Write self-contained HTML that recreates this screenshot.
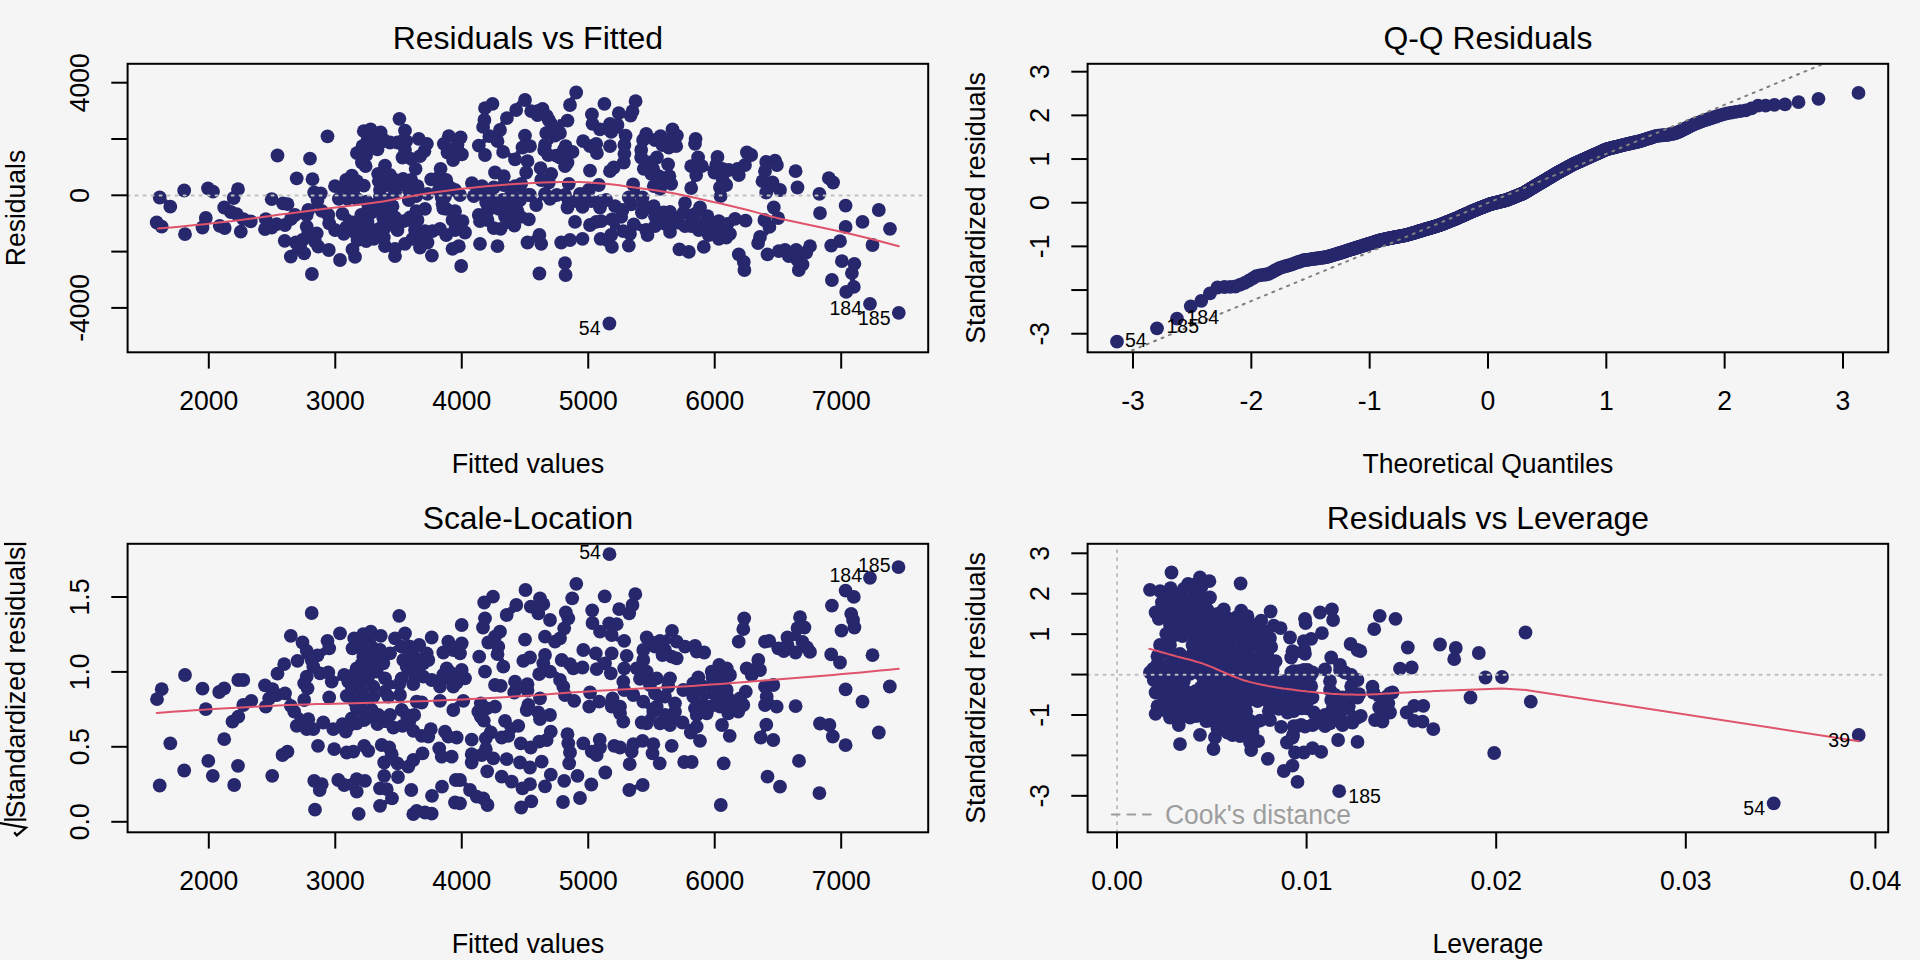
<!DOCTYPE html>
<html><head><meta charset="utf-8"><title>lm diagnostics</title>
<style>html,body{margin:0;padding:0;background:#f5f5f5;}body{width:1920px;height:960px;overflow:hidden;font-family:"Liberation Sans",sans-serif;}svg{display:block}</style>
</head><body>
<svg width="1920" height="960" viewBox="0 0 1920 960" font-family="Liberation Sans, sans-serif">
<rect width="1920" height="960" fill="#f5f5f5"/>
<clipPath id="c1"><rect x="128.6" y="64.8" width="798.6" height="286.5"/></clipPath>
<g clip-path="url(#c1)">
<g fill="#27276d">
<circle cx="159.7" cy="197.5" r="6.9"/>
<circle cx="170.3" cy="206.7" r="6.9"/>
<circle cx="184.2" cy="190.5" r="6.9"/>
<circle cx="156.7" cy="222.5" r="6.9"/>
<circle cx="161.7" cy="226.7" r="6.9"/>
<circle cx="185.0" cy="234.2" r="6.9"/>
<circle cx="208.0" cy="188.3" r="6.9"/>
<circle cx="213.0" cy="191.7" r="6.9"/>
<circle cx="205.8" cy="218.0" r="6.9"/>
<circle cx="202.5" cy="227.5" r="6.9"/>
<circle cx="219.7" cy="225.8" r="6.9"/>
<circle cx="224.7" cy="228.0" r="6.9"/>
<circle cx="224.2" cy="207.5" r="6.9"/>
<circle cx="238.0" cy="189.2" r="6.9"/>
<circle cx="233.7" cy="198.0" r="6.9"/>
<circle cx="230.8" cy="212.0" r="6.9"/>
<circle cx="236.7" cy="214.2" r="6.9"/>
<circle cx="243.3" cy="219.2" r="6.9"/>
<circle cx="250.8" cy="221.3" r="6.9"/>
<circle cx="240.8" cy="231.7" r="6.9"/>
<circle cx="277.5" cy="155.5" r="6.9"/>
<circle cx="296.7" cy="178.3" r="6.9"/>
<circle cx="271.7" cy="199.2" r="6.9"/>
<circle cx="283.0" cy="203.3" r="6.9"/>
<circle cx="287.5" cy="204.2" r="6.9"/>
<circle cx="265.8" cy="219.2" r="6.9"/>
<circle cx="265.0" cy="229.2" r="6.9"/>
<circle cx="271.7" cy="227.5" r="6.9"/>
<circle cx="276.7" cy="224.2" r="6.9"/>
<circle cx="285.0" cy="225.0" r="6.9"/>
<circle cx="290.8" cy="219.2" r="6.9"/>
<circle cx="295.0" cy="215.0" r="6.9"/>
<circle cx="284.7" cy="240.8" r="6.9"/>
<circle cx="290.8" cy="256.7" r="6.9"/>
<circle cx="295.8" cy="242.5" r="6.9"/>
<circle cx="310.0" cy="158.7" r="6.9"/>
<circle cx="327.5" cy="136.3" r="6.9"/>
<circle cx="312.5" cy="179.2" r="6.9"/>
<circle cx="314.2" cy="192.5" r="6.9"/>
<circle cx="320.8" cy="193.3" r="6.9"/>
<circle cx="317.5" cy="200.0" r="6.9"/>
<circle cx="308.3" cy="210.0" r="6.9"/>
<circle cx="306.7" cy="215.0" r="6.9"/>
<circle cx="321.7" cy="210.8" r="6.9"/>
<circle cx="328.3" cy="215.0" r="6.9"/>
<circle cx="306.7" cy="226.7" r="6.9"/>
<circle cx="308.3" cy="233.3" r="6.9"/>
<circle cx="302.5" cy="240.0" r="6.9"/>
<circle cx="300.0" cy="246.7" r="6.9"/>
<circle cx="304.2" cy="253.3" r="6.9"/>
<circle cx="316.7" cy="233.3" r="6.9"/>
<circle cx="315.0" cy="241.7" r="6.9"/>
<circle cx="318.3" cy="246.7" r="6.9"/>
<circle cx="329.2" cy="223.3" r="6.9"/>
<circle cx="311.9" cy="274.0" r="6.9"/>
<circle cx="363.8" cy="131.2" r="6.9"/>
<circle cx="370.6" cy="129.4" r="6.9"/>
<circle cx="380.6" cy="132.5" r="6.9"/>
<circle cx="367.5" cy="140.0" r="6.9"/>
<circle cx="376.2" cy="141.2" r="6.9"/>
<circle cx="362.5" cy="146.2" r="6.9"/>
<circle cx="356.9" cy="153.1" r="6.9"/>
<circle cx="366.2" cy="155.0" r="6.9"/>
<circle cx="377.5" cy="149.4" r="6.9"/>
<circle cx="361.9" cy="162.5" r="6.9"/>
<circle cx="365.6" cy="166.2" r="6.9"/>
<circle cx="399.4" cy="118.8" r="6.9"/>
<circle cx="405.0" cy="130.6" r="6.9"/>
<circle cx="390.0" cy="142.5" r="6.9"/>
<circle cx="397.5" cy="142.5" r="6.9"/>
<circle cx="406.2" cy="141.2" r="6.9"/>
<circle cx="418.8" cy="138.8" r="6.9"/>
<circle cx="426.9" cy="143.8" r="6.9"/>
<circle cx="424.4" cy="151.2" r="6.9"/>
<circle cx="405.0" cy="150.0" r="6.9"/>
<circle cx="402.5" cy="157.5" r="6.9"/>
<circle cx="411.2" cy="158.8" r="6.9"/>
<circle cx="420.0" cy="156.2" r="6.9"/>
<circle cx="448.8" cy="136.2" r="6.9"/>
<circle cx="460.6" cy="137.5" r="6.9"/>
<circle cx="443.8" cy="143.8" r="6.9"/>
<circle cx="457.5" cy="145.0" r="6.9"/>
<circle cx="447.5" cy="152.5" r="6.9"/>
<circle cx="461.9" cy="154.4" r="6.9"/>
<circle cx="453.1" cy="160.0" r="6.9"/>
<circle cx="485.0" cy="108.1" r="6.9"/>
<circle cx="492.5" cy="103.8" r="6.9"/>
<circle cx="484.4" cy="120.0" r="6.9"/>
<circle cx="483.1" cy="126.9" r="6.9"/>
<circle cx="489.4" cy="136.2" r="6.9"/>
<circle cx="497.5" cy="141.2" r="6.9"/>
<circle cx="500.0" cy="130.0" r="6.9"/>
<circle cx="478.8" cy="145.6" r="6.9"/>
<circle cx="485.0" cy="155.0" r="6.9"/>
<circle cx="503.1" cy="151.9" r="6.9"/>
<circle cx="506.9" cy="118.1" r="6.9"/>
<circle cx="516.2" cy="110.0" r="6.9"/>
<circle cx="525.0" cy="100.0" r="6.9"/>
<circle cx="531.2" cy="111.2" r="6.9"/>
<circle cx="542.5" cy="108.8" r="6.9"/>
<circle cx="537.5" cy="115.0" r="6.9"/>
<circle cx="548.8" cy="120.0" r="6.9"/>
<circle cx="551.2" cy="123.8" r="6.9"/>
<circle cx="567.5" cy="120.6" r="6.9"/>
<circle cx="570.0" cy="105.0" r="6.9"/>
<circle cx="525.0" cy="135.6" r="6.9"/>
<circle cx="522.5" cy="147.5" r="6.9"/>
<circle cx="530.0" cy="146.2" r="6.9"/>
<circle cx="515.0" cy="159.4" r="6.9"/>
<circle cx="527.5" cy="161.2" r="6.9"/>
<circle cx="526.2" cy="172.5" r="6.9"/>
<circle cx="545.0" cy="145.0" r="6.9"/>
<circle cx="565.6" cy="146.2" r="6.9"/>
<circle cx="555.0" cy="135.6" r="6.9"/>
<circle cx="556.2" cy="155.6" r="6.9"/>
<circle cx="546.2" cy="133.1" r="6.9"/>
<circle cx="560.0" cy="133.1" r="6.9"/>
<circle cx="540.6" cy="168.1" r="6.9"/>
<circle cx="551.2" cy="173.8" r="6.9"/>
<circle cx="541.2" cy="180.0" r="6.9"/>
<circle cx="548.8" cy="182.5" r="6.9"/>
<circle cx="567.5" cy="162.5" r="6.9"/>
<circle cx="565.0" cy="155.0" r="6.9"/>
<circle cx="335.0" cy="186.2" r="6.9"/>
<circle cx="346.2" cy="180.0" r="6.9"/>
<circle cx="351.9" cy="175.6" r="6.9"/>
<circle cx="356.9" cy="181.2" r="6.9"/>
<circle cx="363.8" cy="185.6" r="6.9"/>
<circle cx="346.2" cy="187.5" r="6.9"/>
<circle cx="385.0" cy="165.6" r="6.9"/>
<circle cx="378.1" cy="173.8" r="6.9"/>
<circle cx="390.0" cy="175.0" r="6.9"/>
<circle cx="378.8" cy="181.2" r="6.9"/>
<circle cx="387.5" cy="185.0" r="6.9"/>
<circle cx="395.0" cy="180.0" r="6.9"/>
<circle cx="403.1" cy="178.8" r="6.9"/>
<circle cx="415.6" cy="168.8" r="6.9"/>
<circle cx="411.2" cy="180.0" r="6.9"/>
<circle cx="417.5" cy="186.2" r="6.9"/>
<circle cx="408.8" cy="190.0" r="6.9"/>
<circle cx="440.6" cy="168.8" r="6.9"/>
<circle cx="431.2" cy="179.4" r="6.9"/>
<circle cx="440.0" cy="181.2" r="6.9"/>
<circle cx="446.2" cy="180.0" r="6.9"/>
<circle cx="450.0" cy="187.5" r="6.9"/>
<circle cx="455.0" cy="190.0" r="6.9"/>
<circle cx="438.8" cy="190.0" r="6.9"/>
<circle cx="495.0" cy="172.5" r="6.9"/>
<circle cx="503.8" cy="176.2" r="6.9"/>
<circle cx="471.9" cy="183.1" r="6.9"/>
<circle cx="481.9" cy="186.2" r="6.9"/>
<circle cx="493.8" cy="187.5" r="6.9"/>
<circle cx="503.8" cy="185.0" r="6.9"/>
<circle cx="515.0" cy="186.2" r="6.9"/>
<circle cx="521.2" cy="183.8" r="6.9"/>
<circle cx="338.8" cy="198.8" r="6.9"/>
<circle cx="356.9" cy="198.8" r="6.9"/>
<circle cx="380.0" cy="190.0" r="6.9"/>
<circle cx="380.0" cy="196.2" r="6.9"/>
<circle cx="395.0" cy="192.5" r="6.9"/>
<circle cx="408.8" cy="200.0" r="6.9"/>
<circle cx="416.2" cy="196.2" r="6.9"/>
<circle cx="427.5" cy="193.8" r="6.9"/>
<circle cx="442.5" cy="192.5" r="6.9"/>
<circle cx="442.5" cy="203.8" r="6.9"/>
<circle cx="460.0" cy="195.0" r="6.9"/>
<circle cx="473.8" cy="196.2" r="6.9"/>
<circle cx="488.8" cy="192.5" r="6.9"/>
<circle cx="486.2" cy="202.5" r="6.9"/>
<circle cx="502.5" cy="200.0" r="6.9"/>
<circle cx="511.2" cy="193.8" r="6.9"/>
<circle cx="520.0" cy="200.0" r="6.9"/>
<circle cx="510.0" cy="207.5" r="6.9"/>
<circle cx="530.0" cy="195.0" r="6.9"/>
<circle cx="536.2" cy="205.0" r="6.9"/>
<circle cx="550.0" cy="198.8" r="6.9"/>
<circle cx="545.0" cy="193.8" r="6.9"/>
<circle cx="565.0" cy="195.0" r="6.9"/>
<circle cx="567.5" cy="207.5" r="6.9"/>
<circle cx="342.5" cy="213.8" r="6.9"/>
<circle cx="361.2" cy="215.0" r="6.9"/>
<circle cx="371.2" cy="212.5" r="6.9"/>
<circle cx="367.5" cy="221.2" r="6.9"/>
<circle cx="352.5" cy="222.5" r="6.9"/>
<circle cx="346.2" cy="227.5" r="6.9"/>
<circle cx="382.5" cy="207.5" r="6.9"/>
<circle cx="392.5" cy="206.2" r="6.9"/>
<circle cx="395.0" cy="217.5" r="6.9"/>
<circle cx="388.8" cy="223.8" r="6.9"/>
<circle cx="410.0" cy="217.5" r="6.9"/>
<circle cx="403.8" cy="221.2" r="6.9"/>
<circle cx="417.5" cy="220.0" r="6.9"/>
<circle cx="425.0" cy="208.8" r="6.9"/>
<circle cx="416.2" cy="211.2" r="6.9"/>
<circle cx="446.2" cy="208.8" r="6.9"/>
<circle cx="455.0" cy="211.2" r="6.9"/>
<circle cx="452.5" cy="220.0" r="6.9"/>
<circle cx="462.5" cy="221.2" r="6.9"/>
<circle cx="478.8" cy="215.0" r="6.9"/>
<circle cx="487.5" cy="211.2" r="6.9"/>
<circle cx="480.0" cy="221.2" r="6.9"/>
<circle cx="487.5" cy="220.0" r="6.9"/>
<circle cx="498.8" cy="208.8" r="6.9"/>
<circle cx="507.5" cy="211.2" r="6.9"/>
<circle cx="517.5" cy="211.2" r="6.9"/>
<circle cx="528.8" cy="219.4" r="6.9"/>
<circle cx="514.4" cy="225.6" r="6.9"/>
<circle cx="493.8" cy="228.1" r="6.9"/>
<circle cx="500.6" cy="228.8" r="6.9"/>
<circle cx="335.0" cy="230.0" r="6.9"/>
<circle cx="343.8" cy="233.8" r="6.9"/>
<circle cx="355.0" cy="232.5" r="6.9"/>
<circle cx="365.0" cy="230.0" r="6.9"/>
<circle cx="376.2" cy="230.0" r="6.9"/>
<circle cx="385.0" cy="227.5" r="6.9"/>
<circle cx="366.2" cy="241.2" r="6.9"/>
<circle cx="357.5" cy="240.0" r="6.9"/>
<circle cx="373.8" cy="238.8" r="6.9"/>
<circle cx="383.8" cy="237.5" r="6.9"/>
<circle cx="385.0" cy="246.2" r="6.9"/>
<circle cx="397.5" cy="230.0" r="6.9"/>
<circle cx="395.0" cy="248.8" r="6.9"/>
<circle cx="405.0" cy="243.8" r="6.9"/>
<circle cx="415.0" cy="230.0" r="6.9"/>
<circle cx="412.5" cy="238.8" r="6.9"/>
<circle cx="425.0" cy="231.2" r="6.9"/>
<circle cx="432.5" cy="231.2" r="6.9"/>
<circle cx="440.0" cy="228.8" r="6.9"/>
<circle cx="427.5" cy="242.5" r="6.9"/>
<circle cx="420.0" cy="247.5" r="6.9"/>
<circle cx="446.2" cy="235.0" r="6.9"/>
<circle cx="455.0" cy="230.0" r="6.9"/>
<circle cx="465.0" cy="232.5" r="6.9"/>
<circle cx="458.8" cy="246.2" r="6.9"/>
<circle cx="452.5" cy="248.8" r="6.9"/>
<circle cx="480.0" cy="243.8" r="6.9"/>
<circle cx="497.5" cy="246.2" r="6.9"/>
<circle cx="527.5" cy="242.5" r="6.9"/>
<circle cx="539.4" cy="235.0" r="6.9"/>
<circle cx="541.2" cy="243.8" r="6.9"/>
<circle cx="561.2" cy="242.5" r="6.9"/>
<circle cx="570.0" cy="240.0" r="6.9"/>
<circle cx="328.8" cy="250.0" r="6.9"/>
<circle cx="352.5" cy="249.4" r="6.9"/>
<circle cx="355.0" cy="256.9" r="6.9"/>
<circle cx="340.0" cy="260.0" r="6.9"/>
<circle cx="395.0" cy="256.2" r="6.9"/>
<circle cx="431.9" cy="255.6" r="6.9"/>
<circle cx="461.2" cy="266.0" r="6.9"/>
<circle cx="539.4" cy="273.5" r="6.9"/>
<circle cx="565.0" cy="263.1" r="6.9"/>
<circle cx="565.6" cy="275.0" r="6.9"/>
<circle cx="576.2" cy="92.5" r="6.9"/>
<circle cx="604.4" cy="103.8" r="6.9"/>
<circle cx="635.6" cy="101.2" r="6.9"/>
<circle cx="591.9" cy="114.4" r="6.9"/>
<circle cx="592.5" cy="123.8" r="6.9"/>
<circle cx="618.8" cy="113.1" r="6.9"/>
<circle cx="630.6" cy="115.6" r="6.9"/>
<circle cx="632.5" cy="111.2" r="6.9"/>
<circle cx="610.0" cy="123.8" r="6.9"/>
<circle cx="600.0" cy="129.4" r="6.9"/>
<circle cx="611.2" cy="131.9" r="6.9"/>
<circle cx="617.5" cy="125.0" r="6.9"/>
<circle cx="625.6" cy="135.6" r="6.9"/>
<circle cx="583.1" cy="141.2" r="6.9"/>
<circle cx="596.2" cy="143.8" r="6.9"/>
<circle cx="590.0" cy="146.2" r="6.9"/>
<circle cx="596.9" cy="153.1" r="6.9"/>
<circle cx="610.0" cy="146.2" r="6.9"/>
<circle cx="624.4" cy="145.0" r="6.9"/>
<circle cx="624.4" cy="153.8" r="6.9"/>
<circle cx="623.8" cy="162.5" r="6.9"/>
<circle cx="613.8" cy="167.5" r="6.9"/>
<circle cx="610.0" cy="171.2" r="6.9"/>
<circle cx="590.0" cy="170.6" r="6.9"/>
<circle cx="563.8" cy="150.0" r="6.9"/>
<circle cx="572.5" cy="151.9" r="6.9"/>
<circle cx="565.0" cy="166.2" r="6.9"/>
<circle cx="560.0" cy="157.5" r="6.9"/>
<circle cx="646.2" cy="133.8" r="6.9"/>
<circle cx="643.1" cy="140.0" r="6.9"/>
<circle cx="641.2" cy="150.0" r="6.9"/>
<circle cx="641.2" cy="157.5" r="6.9"/>
<circle cx="643.8" cy="168.8" r="6.9"/>
<circle cx="656.9" cy="157.5" r="6.9"/>
<circle cx="653.1" cy="168.8" r="6.9"/>
<circle cx="660.6" cy="136.2" r="6.9"/>
<circle cx="655.0" cy="140.0" r="6.9"/>
<circle cx="672.5" cy="129.4" r="6.9"/>
<circle cx="676.9" cy="135.6" r="6.9"/>
<circle cx="667.5" cy="140.0" r="6.9"/>
<circle cx="676.2" cy="146.2" r="6.9"/>
<circle cx="668.8" cy="147.5" r="6.9"/>
<circle cx="662.5" cy="145.0" r="6.9"/>
<circle cx="668.1" cy="164.4" r="6.9"/>
<circle cx="669.4" cy="176.2" r="6.9"/>
<circle cx="658.8" cy="176.2" r="6.9"/>
<circle cx="651.2" cy="173.8" r="6.9"/>
<circle cx="671.2" cy="183.8" r="6.9"/>
<circle cx="653.8" cy="186.2" r="6.9"/>
<circle cx="633.1" cy="184.4" r="6.9"/>
<circle cx="568.8" cy="183.8" r="6.9"/>
<circle cx="598.8" cy="185.0" r="6.9"/>
<circle cx="588.8" cy="190.0" r="6.9"/>
<circle cx="695.6" cy="138.8" r="6.9"/>
<circle cx="695.0" cy="143.8" r="6.9"/>
<circle cx="698.1" cy="157.5" r="6.9"/>
<circle cx="691.2" cy="166.2" r="6.9"/>
<circle cx="701.9" cy="166.2" r="6.9"/>
<circle cx="696.2" cy="175.0" r="6.9"/>
<circle cx="691.2" cy="188.1" r="6.9"/>
<circle cx="717.5" cy="156.9" r="6.9"/>
<circle cx="714.4" cy="172.5" r="6.9"/>
<circle cx="722.5" cy="168.8" r="6.9"/>
<circle cx="728.8" cy="170.0" r="6.9"/>
<circle cx="722.5" cy="178.8" r="6.9"/>
<circle cx="737.5" cy="168.8" r="6.9"/>
<circle cx="745.0" cy="165.0" r="6.9"/>
<circle cx="738.8" cy="175.0" r="6.9"/>
<circle cx="726.2" cy="185.0" r="6.9"/>
<circle cx="720.0" cy="187.5" r="6.9"/>
<circle cx="746.9" cy="152.5" r="6.9"/>
<circle cx="751.2" cy="155.0" r="6.9"/>
<circle cx="766.2" cy="161.9" r="6.9"/>
<circle cx="775.0" cy="160.6" r="6.9"/>
<circle cx="776.9" cy="165.0" r="6.9"/>
<circle cx="765.0" cy="171.2" r="6.9"/>
<circle cx="762.5" cy="181.2" r="6.9"/>
<circle cx="772.5" cy="182.5" r="6.9"/>
<circle cx="795.6" cy="171.2" r="6.9"/>
<circle cx="797.5" cy="187.5" r="6.9"/>
<circle cx="780.0" cy="190.0" r="6.9"/>
<circle cx="580.0" cy="193.8" r="6.9"/>
<circle cx="660.0" cy="188.8" r="6.9"/>
<circle cx="720.6" cy="196.2" r="6.9"/>
<circle cx="766.2" cy="192.5" r="6.9"/>
<circle cx="568.8" cy="202.5" r="6.9"/>
<circle cx="576.2" cy="201.2" r="6.9"/>
<circle cx="582.5" cy="206.9" r="6.9"/>
<circle cx="591.2" cy="201.2" r="6.9"/>
<circle cx="600.0" cy="207.5" r="6.9"/>
<circle cx="606.2" cy="200.0" r="6.9"/>
<circle cx="601.2" cy="201.2" r="6.9"/>
<circle cx="615.0" cy="206.2" r="6.9"/>
<circle cx="622.5" cy="210.0" r="6.9"/>
<circle cx="628.8" cy="197.5" r="6.9"/>
<circle cx="631.2" cy="204.4" r="6.9"/>
<circle cx="642.5" cy="197.5" r="6.9"/>
<circle cx="641.9" cy="212.5" r="6.9"/>
<circle cx="647.5" cy="207.5" r="6.9"/>
<circle cx="653.8" cy="206.2" r="6.9"/>
<circle cx="655.0" cy="216.2" r="6.9"/>
<circle cx="663.8" cy="212.5" r="6.9"/>
<circle cx="670.0" cy="211.9" r="6.9"/>
<circle cx="685.0" cy="203.1" r="6.9"/>
<circle cx="683.8" cy="212.5" r="6.9"/>
<circle cx="700.0" cy="207.5" r="6.9"/>
<circle cx="695.0" cy="213.8" r="6.9"/>
<circle cx="707.5" cy="216.2" r="6.9"/>
<circle cx="773.8" cy="207.5" r="6.9"/>
<circle cx="778.1" cy="218.1" r="6.9"/>
<circle cx="764.4" cy="220.0" r="6.9"/>
<circle cx="769.4" cy="226.9" r="6.9"/>
<circle cx="575.0" cy="221.9" r="6.9"/>
<circle cx="590.0" cy="225.0" r="6.9"/>
<circle cx="596.2" cy="221.9" r="6.9"/>
<circle cx="601.2" cy="221.2" r="6.9"/>
<circle cx="611.9" cy="219.4" r="6.9"/>
<circle cx="621.2" cy="216.9" r="6.9"/>
<circle cx="633.8" cy="224.4" r="6.9"/>
<circle cx="623.1" cy="231.2" r="6.9"/>
<circle cx="630.0" cy="233.8" r="6.9"/>
<circle cx="611.2" cy="235.0" r="6.9"/>
<circle cx="600.6" cy="238.8" r="6.9"/>
<circle cx="582.5" cy="238.8" r="6.9"/>
<circle cx="646.2" cy="230.0" r="6.9"/>
<circle cx="647.5" cy="235.0" r="6.9"/>
<circle cx="655.0" cy="226.2" r="6.9"/>
<circle cx="665.0" cy="223.8" r="6.9"/>
<circle cx="670.0" cy="231.9" r="6.9"/>
<circle cx="677.5" cy="222.5" r="6.9"/>
<circle cx="685.0" cy="226.2" r="6.9"/>
<circle cx="691.2" cy="226.2" r="6.9"/>
<circle cx="698.8" cy="230.0" r="6.9"/>
<circle cx="697.5" cy="223.8" r="6.9"/>
<circle cx="707.5" cy="223.8" r="6.9"/>
<circle cx="718.8" cy="221.2" r="6.9"/>
<circle cx="713.8" cy="230.0" r="6.9"/>
<circle cx="727.5" cy="223.8" r="6.9"/>
<circle cx="735.0" cy="218.8" r="6.9"/>
<circle cx="745.6" cy="220.6" r="6.9"/>
<circle cx="708.8" cy="235.0" r="6.9"/>
<circle cx="718.8" cy="238.8" r="6.9"/>
<circle cx="726.2" cy="237.5" r="6.9"/>
<circle cx="730.0" cy="233.8" r="6.9"/>
<circle cx="760.0" cy="236.9" r="6.9"/>
<circle cx="758.1" cy="243.1" r="6.9"/>
<circle cx="611.9" cy="246.9" r="6.9"/>
<circle cx="628.8" cy="245.6" r="6.9"/>
<circle cx="679.4" cy="249.4" r="6.9"/>
<circle cx="688.8" cy="251.9" r="6.9"/>
<circle cx="703.8" cy="246.9" r="6.9"/>
<circle cx="738.8" cy="254.4" r="6.9"/>
<circle cx="743.8" cy="261.9" r="6.9"/>
<circle cx="744.4" cy="270.0" r="6.9"/>
<circle cx="767.5" cy="254.4" r="6.9"/>
<circle cx="778.8" cy="251.2" r="6.9"/>
<circle cx="785.0" cy="250.0" r="6.9"/>
<circle cx="788.8" cy="256.2" r="6.9"/>
<circle cx="796.2" cy="250.0" r="6.9"/>
<circle cx="797.5" cy="260.0" r="6.9"/>
<circle cx="798.8" cy="270.0" r="6.9"/>
<circle cx="819.4" cy="193.8" r="6.9"/>
<circle cx="828.8" cy="178.1" r="6.9"/>
<circle cx="833.1" cy="182.5" r="6.9"/>
<circle cx="820.0" cy="213.1" r="6.9"/>
<circle cx="845.6" cy="205.6" r="6.9"/>
<circle cx="878.8" cy="210.0" r="6.9"/>
<circle cx="862.5" cy="221.9" r="6.9"/>
<circle cx="845.6" cy="226.9" r="6.9"/>
<circle cx="890.0" cy="228.8" r="6.9"/>
<circle cx="840.0" cy="241.2" r="6.9"/>
<circle cx="831.2" cy="245.6" r="6.9"/>
<circle cx="872.5" cy="245.0" r="6.9"/>
<circle cx="810.0" cy="246.2" r="6.9"/>
<circle cx="806.2" cy="252.5" r="6.9"/>
<circle cx="802.5" cy="264.4" r="6.9"/>
<circle cx="841.9" cy="261.2" r="6.9"/>
<circle cx="854.4" cy="263.8" r="6.9"/>
<circle cx="851.9" cy="273.1" r="6.9"/>
<circle cx="831.9" cy="280.0" r="6.9"/>
<circle cx="853.8" cy="286.9" r="6.9"/>
<circle cx="846.2" cy="291.9" r="6.9"/>
<circle cx="870.0" cy="303.8" r="6.9"/>
<circle cx="898.8" cy="312.8" r="6.9"/>
<circle cx="609.4" cy="323.5" r="6.9"/>
<circle cx="505.0" cy="216.5" r="6.9"/>
<circle cx="511.2" cy="217.5" r="6.9"/>
<circle cx="383.1" cy="217.5" r="6.9"/>
<circle cx="347.5" cy="198.8" r="6.9"/>
<circle cx="353.3" cy="190.8" r="6.9"/>
<circle cx="366.7" cy="201.7" r="6.9"/>
<circle cx="441.7" cy="197.5" r="6.9"/>
<circle cx="716.2" cy="165.0" r="6.9"/>
<circle cx="538.3" cy="110.8" r="6.9"/>
<circle cx="546.7" cy="115.8" r="6.9"/>
<circle cx="544.2" cy="150.0" r="6.9"/>
<circle cx="548.3" cy="155.0" r="6.9"/>
<circle cx="445.0" cy="196.7" r="6.9"/>
<circle cx="528.3" cy="195.0" r="6.9"/>
<circle cx="556.7" cy="195.0" r="6.9"/>
<circle cx="443.3" cy="208.3" r="6.9"/>
<circle cx="388.5" cy="198.5" r="2.6"/>
<circle cx="649.0" cy="161.0" r="2.6"/>
<circle cx="375.0" cy="203.5" r="2.6"/>
<circle cx="520.0" cy="219.5" r="2.6"/>
<circle cx="615.5" cy="227.5" r="2.6"/>
<circle cx="560.0" cy="124.5" r="2.6"/>
<circle cx="635.5" cy="192.5" r="2.6"/>
<circle cx="494.0" cy="199.0" r="2.6"/>
<circle cx="722.0" cy="230.0" r="2.6"/>
<circle cx="400.5" cy="186.5" r="2.6"/>
<circle cx="420.5" cy="238.0" r="2.6"/>
<circle cx="520.5" cy="192.0" r="2.6"/>
<circle cx="639.5" cy="205.0" r="2.6"/>
<circle cx="688.0" cy="219.0" r="2.6"/>
<circle cx="370.0" cy="147.5" r="2.6"/>
<circle cx="649.0" cy="158.0" r="2.6"/>
<circle cx="481.0" cy="194.0" r="2.6"/>
<circle cx="388.0" cy="195.5" r="2.6"/>
<circle cx="386.5" cy="201.0" r="2.6"/>
<circle cx="494.0" cy="202.0" r="2.6"/>
<circle cx="360.0" cy="222.5" r="2.6"/>
<circle cx="507.0" cy="224.0" r="2.6"/>
<circle cx="617.5" cy="225.0" r="2.6"/>
<circle cx="612.5" cy="227.0" r="2.6"/>
<circle cx="560.0" cy="121.5" r="2.6"/>
<circle cx="664.0" cy="181.5" r="2.6"/>
<circle cx="637.5" cy="190.5" r="2.6"/>
<circle cx="374.0" cy="200.5" r="2.6"/>
<circle cx="388.5" cy="212.5" r="2.6"/>
<circle cx="572.5" cy="98.5" r="2.6"/>
<circle cx="519.0" cy="103.5" r="2.6"/>
<circle cx="502.5" cy="123.5" r="2.6"/>
<circle cx="562.5" cy="125.5" r="2.6"/>
<circle cx="558.0" cy="126.0" r="2.6"/>
<circle cx="620.0" cy="131.5" r="2.6"/>
<circle cx="386.5" cy="136.5" r="2.6"/>
<circle cx="401.0" cy="136.5" r="2.6"/>
<circle cx="383.0" cy="139.0" r="2.6"/>
<circle cx="484.0" cy="141.0" r="2.6"/>
<circle cx="551.0" cy="141.5" r="2.6"/>
<circle cx="383.0" cy="143.0" r="2.6"/>
<circle cx="383.5" cy="145.5" r="2.6"/>
<circle cx="450.5" cy="145.5" r="2.6"/>
<circle cx="454.5" cy="151.5" r="2.6"/>
<circle cx="518.0" cy="153.0" r="2.6"/>
<circle cx="509.5" cy="155.0" r="2.6"/>
<circle cx="646.5" cy="162.0" r="2.6"/>
<circle cx="651.5" cy="162.0" r="2.6"/>
<circle cx="648.5" cy="163.5" r="2.6"/>
<circle cx="708.5" cy="168.5" r="2.6"/>
<circle cx="436.0" cy="174.0" r="2.6"/>
<circle cx="693.5" cy="181.5" r="2.6"/>
<circle cx="403.0" cy="186.0" r="2.6"/>
<circle cx="402.0" cy="188.5" r="2.6"/>
<circle cx="475.5" cy="189.0" r="2.6"/>
<circle cx="772.5" cy="189.5" r="2.6"/>
<circle cx="523.0" cy="190.5" r="2.6"/>
<circle cx="339.5" cy="191.5" r="2.6"/>
<circle cx="632.5" cy="191.5" r="2.6"/>
<circle cx="635.5" cy="195.0" r="2.6"/>
<circle cx="482.5" cy="196.0" r="2.6"/>
<circle cx="495.0" cy="196.0" r="2.6"/>
<circle cx="480.5" cy="198.0" r="2.6"/>
<circle cx="391.0" cy="198.5" r="2.6"/>
<circle cx="540.0" cy="199.0" r="2.6"/>
<circle cx="584.5" cy="199.0" r="2.6"/>
<circle cx="509.5" cy="200.5" r="2.6"/>
<circle cx="513.0" cy="200.5" r="2.6"/>
<circle cx="165.5" cy="201.5" r="2.6"/>
<circle cx="373.0" cy="205.0" r="2.6"/>
<circle cx="492.5" cy="205.5" r="2.6"/>
<circle cx="314.0" cy="206.0" r="2.6"/>
<circle cx="375.5" cy="206.0" r="2.6"/>
<circle cx="364.0" cy="208.5" r="2.6"/>
<circle cx="524.0" cy="214.0" r="2.6"/>
<circle cx="677.0" cy="214.0" r="2.6"/>
<circle cx="349.0" cy="216.5" r="2.6"/>
<circle cx="521.5" cy="217.0" r="2.6"/>
<circle cx="670.5" cy="219.0" r="2.6"/>
<circle cx="690.5" cy="219.0" r="2.6"/>
<circle cx="345.5" cy="220.0" r="2.6"/>
<circle cx="522.0" cy="221.0" r="2.6"/>
<circle cx="379.0" cy="223.5" r="2.6"/>
<circle cx="410.0" cy="224.5" r="2.6"/>
<circle cx="359.0" cy="225.0" r="2.6"/>
<circle cx="640.5" cy="226.0" r="2.6"/>
<circle cx="507.5" cy="226.5" r="2.6"/>
<circle cx="720.5" cy="228.0" r="2.6"/>
<circle cx="639.5" cy="228.5" r="2.6"/>
<circle cx="720.5" cy="232.0" r="2.6"/>
<circle cx="766.0" cy="233.0" r="2.6"/>
<circle cx="419.5" cy="235.5" r="2.6"/>
<circle cx="533.0" cy="238.0" r="2.6"/>
<circle cx="534.5" cy="240.0" r="2.6"/>
<circle cx="419.5" cy="240.5" r="2.6"/>
<circle cx="607.5" cy="241.0" r="2.6"/>
<circle cx="605.5" cy="244.0" r="2.6"/>
<circle cx="294.0" cy="250.5" r="2.6"/>
<circle cx="297.0" cy="253.0" r="2.6"/>
<circle cx="852.5" cy="280.0" r="2.6"/>
</g>
<line x1="127.60" y1="195.50" x2="928.20" y2="195.50" stroke="#bebebe" stroke-width="2.0" stroke-linecap="round" stroke-dasharray="2 6"/>
<path d="M158.0,228.6 L167.4,227.8 L176.8,227.0 L186.1,226.1 L195.5,225.1 L204.9,224.2 L214.3,223.1 L223.6,222.1 L233.0,221.0 L242.4,219.8 L251.8,218.5 L261.1,217.2 L270.5,215.9 L279.9,214.6 L289.3,213.4 L298.6,212.2 L308.0,210.9 L317.4,209.7 L326.8,208.5 L336.2,207.4 L345.5,206.3 L354.9,205.2 L364.3,204.0 L373.7,202.8 L383.0,201.4 L392.4,199.8 L401.8,198.1 L411.2,196.3 L420.5,194.6 L429.9,193.1 L439.3,191.8 L448.7,190.5 L458.1,189.3 L467.4,188.2 L476.8,187.2 L486.2,186.3 L495.6,185.5 L504.9,184.7 L514.3,184.0 L523.7,183.4 L533.1,183.0 L542.4,182.6 L551.8,182.2 L561.2,182.0 L570.6,181.9 L579.9,182.1 L589.3,182.6 L598.7,183.2 L608.1,184.0 L617.5,185.1 L626.8,186.4 L636.2,187.7 L645.6,188.9 L655.0,190.3 L664.3,191.7 L673.7,193.3 L683.1,195.2 L692.5,197.2 L701.8,199.4 L711.2,201.5 L720.6,203.6 L730.0,205.8 L739.3,208.0 L748.7,210.3 L758.1,212.9 L767.5,215.5 L776.9,217.9 L786.2,220.0 L795.6,222.0 L805.0,224.0 L814.4,226.0 L823.7,227.9 L833.1,229.9 L842.5,232.0 L851.9,234.2 L861.2,236.5 L870.6,238.8 L880.0,241.2 L889.4,243.7 L898.8,246.2" fill="none" stroke="#df536b" stroke-width="2.0" stroke-linejoin="round" stroke-linecap="round"/>
</g>
<rect x="127.60" y="63.80" width="800.60" height="288.50" fill="none" stroke="#000" stroke-width="2.0"/>
<line x1="208.80" y1="352.30" x2="208.80" y2="368.60" stroke="#000" stroke-width="2.0" stroke-linecap="butt"/>
<text transform="translate(208.80 409.50) scale(1 1.04)" font-size="26.56" text-anchor="middle" fill="#000">2000</text>
<line x1="335.28" y1="352.30" x2="335.28" y2="368.60" stroke="#000" stroke-width="2.0" stroke-linecap="butt"/>
<text transform="translate(335.28 409.50) scale(1 1.04)" font-size="26.56" text-anchor="middle" fill="#000">3000</text>
<line x1="461.76" y1="352.30" x2="461.76" y2="368.60" stroke="#000" stroke-width="2.0" stroke-linecap="butt"/>
<text transform="translate(461.76 409.50) scale(1 1.04)" font-size="26.56" text-anchor="middle" fill="#000">4000</text>
<line x1="588.24" y1="352.30" x2="588.24" y2="368.60" stroke="#000" stroke-width="2.0" stroke-linecap="butt"/>
<text transform="translate(588.24 409.50) scale(1 1.04)" font-size="26.56" text-anchor="middle" fill="#000">5000</text>
<line x1="714.72" y1="352.30" x2="714.72" y2="368.60" stroke="#000" stroke-width="2.0" stroke-linecap="butt"/>
<text transform="translate(714.72 409.50) scale(1 1.04)" font-size="26.56" text-anchor="middle" fill="#000">6000</text>
<line x1="841.20" y1="352.30" x2="841.20" y2="368.60" stroke="#000" stroke-width="2.0" stroke-linecap="butt"/>
<text transform="translate(841.20 409.50) scale(1 1.04)" font-size="26.56" text-anchor="middle" fill="#000">7000</text>
<line x1="111.30" y1="82.70" x2="127.60" y2="82.70" stroke="#000" stroke-width="2.0" stroke-linecap="butt"/>
<text transform="translate(89.00 82.70) rotate(-90) scale(1 1.04)" font-size="26.56" text-anchor="middle" fill="#000">4000</text>
<line x1="111.30" y1="139.00" x2="127.60" y2="139.00" stroke="#000" stroke-width="2.0" stroke-linecap="butt"/>
<line x1="111.30" y1="195.30" x2="127.60" y2="195.30" stroke="#000" stroke-width="2.0" stroke-linecap="butt"/>
<text transform="translate(89.00 195.30) rotate(-90) scale(1 1.04)" font-size="26.56" text-anchor="middle" fill="#000">0</text>
<line x1="111.30" y1="251.60" x2="127.60" y2="251.60" stroke="#000" stroke-width="2.0" stroke-linecap="butt"/>
<line x1="111.30" y1="307.90" x2="127.60" y2="307.90" stroke="#000" stroke-width="2.0" stroke-linecap="butt"/>
<text transform="translate(89.00 307.90) rotate(-90) scale(1 1.04)" font-size="26.56" text-anchor="middle" fill="#000">-4000</text>
<text transform="translate(527.90 48.90) scale(1 1.01)" font-size="31.87" text-anchor="middle" fill="#000" textLength="270.5" lengthAdjust="spacingAndGlyphs">Residuals vs Fitted</text>
<text transform="translate(527.90 472.80) scale(1 1.04)" font-size="26.56" text-anchor="middle" fill="#000" textLength="152.5" lengthAdjust="spacingAndGlyphs">Fitted values</text>
<text transform="translate(25.30 208.00) rotate(-90) scale(1 1.04)" font-size="26.56" text-anchor="middle" fill="#000">Residuals</text>
<text transform="translate(600.50 335.00) scale(1 1.04)" font-size="19.5" text-anchor="end" fill="#000">54</text>
<text transform="translate(862.00 315.40) scale(1 1.04)" font-size="19.5" text-anchor="end" fill="#000">184</text>
<text transform="translate(890.50 324.60) scale(1 1.04)" font-size="19.5" text-anchor="end" fill="#000">185</text>
<clipPath id="c2"><rect x="1088.6" y="64.8" width="798.6" height="286.5"/></clipPath>
<g clip-path="url(#c2)">
<g fill="#27276d">
<circle cx="1224.5" cy="287.0" r="6.9"/>
<circle cx="1230.3" cy="286.8" r="6.9"/>
<circle cx="1235.5" cy="286.5" r="6.9"/>
<circle cx="1240.3" cy="284.6" r="6.9"/>
<circle cx="1244.7" cy="282.8" r="6.9"/>
<circle cx="1248.8" cy="280.7" r="6.9"/>
<circle cx="1252.7" cy="278.3" r="6.9"/>
<circle cx="1256.3" cy="276.1" r="6.9"/>
<circle cx="1259.6" cy="275.4" r="6.9"/>
<circle cx="1262.9" cy="274.9" r="6.9"/>
<circle cx="1265.9" cy="274.5" r="6.9"/>
<circle cx="1268.8" cy="273.9" r="6.9"/>
<circle cx="1271.6" cy="272.4" r="6.9"/>
<circle cx="1274.3" cy="270.9" r="6.9"/>
<circle cx="1276.9" cy="269.5" r="6.9"/>
<circle cx="1279.4" cy="268.2" r="6.9"/>
<circle cx="1281.7" cy="267.3" r="6.9"/>
<circle cx="1284.0" cy="266.7" r="6.9"/>
<circle cx="1286.3" cy="266.0" r="6.9"/>
<circle cx="1288.4" cy="265.4" r="6.9"/>
<circle cx="1290.5" cy="264.8" r="6.9"/>
<circle cx="1292.6" cy="264.1" r="6.9"/>
<circle cx="1294.5" cy="263.4" r="6.9"/>
<circle cx="1296.5" cy="262.7" r="6.9"/>
<circle cx="1298.4" cy="262.0" r="6.9"/>
<circle cx="1300.2" cy="261.4" r="6.9"/>
<circle cx="1302.0" cy="260.8" r="6.9"/>
<circle cx="1303.7" cy="260.2" r="6.9"/>
<circle cx="1305.4" cy="260.0" r="6.9"/>
<circle cx="1307.1" cy="259.8" r="6.9"/>
<circle cx="1308.7" cy="259.6" r="6.9"/>
<circle cx="1310.3" cy="259.3" r="6.9"/>
<circle cx="1311.9" cy="259.1" r="6.9"/>
<circle cx="1313.4" cy="258.9" r="6.9"/>
<circle cx="1314.9" cy="258.7" r="6.9"/>
<circle cx="1316.4" cy="258.5" r="6.9"/>
<circle cx="1317.9" cy="258.3" r="6.9"/>
<circle cx="1319.3" cy="258.1" r="6.9"/>
<circle cx="1320.7" cy="257.9" r="6.9"/>
<circle cx="1322.1" cy="257.7" r="6.9"/>
<circle cx="1323.5" cy="257.5" r="6.9"/>
<circle cx="1324.8" cy="257.3" r="6.9"/>
<circle cx="1326.1" cy="257.1" r="6.9"/>
<circle cx="1327.4" cy="256.8" r="6.9"/>
<circle cx="1328.7" cy="256.4" r="6.9"/>
<circle cx="1330.0" cy="256.0" r="6.9"/>
<circle cx="1331.2" cy="255.6" r="6.9"/>
<circle cx="1332.4" cy="255.3" r="6.9"/>
<circle cx="1333.6" cy="254.9" r="6.9"/>
<circle cx="1334.8" cy="254.6" r="6.9"/>
<circle cx="1336.0" cy="254.2" r="6.9"/>
<circle cx="1337.2" cy="253.9" r="6.9"/>
<circle cx="1338.3" cy="253.5" r="6.9"/>
<circle cx="1339.5" cy="253.2" r="6.9"/>
<circle cx="1340.6" cy="252.8" r="6.9"/>
<circle cx="1341.7" cy="252.5" r="6.9"/>
<circle cx="1342.8" cy="252.1" r="6.9"/>
<circle cx="1343.9" cy="251.8" r="6.9"/>
<circle cx="1344.9" cy="251.4" r="6.9"/>
<circle cx="1346.0" cy="251.1" r="6.9"/>
<circle cx="1347.0" cy="250.7" r="6.9"/>
<circle cx="1348.1" cy="250.4" r="6.9"/>
<circle cx="1349.1" cy="250.1" r="6.9"/>
<circle cx="1350.1" cy="249.7" r="6.9"/>
<circle cx="1351.1" cy="249.4" r="6.9"/>
<circle cx="1352.1" cy="249.1" r="6.9"/>
<circle cx="1353.1" cy="248.8" r="6.9"/>
<circle cx="1354.1" cy="248.5" r="6.9"/>
<circle cx="1355.1" cy="248.1" r="6.9"/>
<circle cx="1356.0" cy="247.8" r="6.9"/>
<circle cx="1357.0" cy="247.5" r="6.9"/>
<circle cx="1357.9" cy="247.3" r="6.9"/>
<circle cx="1358.9" cy="247.0" r="6.9"/>
<circle cx="1359.8" cy="246.7" r="6.9"/>
<circle cx="1360.7" cy="246.4" r="6.9"/>
<circle cx="1361.6" cy="246.1" r="6.9"/>
<circle cx="1362.5" cy="245.8" r="6.9"/>
<circle cx="1363.4" cy="245.5" r="6.9"/>
<circle cx="1364.3" cy="245.3" r="6.9"/>
<circle cx="1365.2" cy="245.0" r="6.9"/>
<circle cx="1366.1" cy="244.7" r="6.9"/>
<circle cx="1366.9" cy="244.4" r="6.9"/>
<circle cx="1367.8" cy="244.2" r="6.9"/>
<circle cx="1368.6" cy="243.9" r="6.9"/>
<circle cx="1369.5" cy="243.6" r="6.9"/>
<circle cx="1370.3" cy="243.3" r="6.9"/>
<circle cx="1371.2" cy="243.1" r="6.9"/>
<circle cx="1372.0" cy="242.8" r="6.9"/>
<circle cx="1372.8" cy="242.6" r="6.9"/>
<circle cx="1373.7" cy="242.3" r="6.9"/>
<circle cx="1374.5" cy="242.0" r="6.9"/>
<circle cx="1375.3" cy="241.8" r="6.9"/>
<circle cx="1376.1" cy="241.5" r="6.9"/>
<circle cx="1376.9" cy="241.3" r="6.9"/>
<circle cx="1377.7" cy="241.0" r="6.9"/>
<circle cx="1378.5" cy="240.8" r="6.9"/>
<circle cx="1379.3" cy="240.5" r="6.9"/>
<circle cx="1380.0" cy="240.3" r="6.9"/>
<circle cx="1380.8" cy="240.1" r="6.9"/>
<circle cx="1381.6" cy="240.0" r="6.9"/>
<circle cx="1382.4" cy="239.8" r="6.9"/>
<circle cx="1383.1" cy="239.6" r="6.9"/>
<circle cx="1383.9" cy="239.5" r="6.9"/>
<circle cx="1384.6" cy="239.3" r="6.9"/>
<circle cx="1385.4" cy="239.2" r="6.9"/>
<circle cx="1386.1" cy="239.0" r="6.9"/>
<circle cx="1386.9" cy="238.9" r="6.9"/>
<circle cx="1387.6" cy="238.7" r="6.9"/>
<circle cx="1388.3" cy="238.5" r="6.9"/>
<circle cx="1389.1" cy="238.4" r="6.9"/>
<circle cx="1389.8" cy="238.2" r="6.9"/>
<circle cx="1390.5" cy="238.1" r="6.9"/>
<circle cx="1391.2" cy="237.9" r="6.9"/>
<circle cx="1391.9" cy="237.8" r="6.9"/>
<circle cx="1392.7" cy="237.6" r="6.9"/>
<circle cx="1393.4" cy="237.5" r="6.9"/>
<circle cx="1394.1" cy="237.4" r="6.9"/>
<circle cx="1394.8" cy="237.2" r="6.9"/>
<circle cx="1395.5" cy="237.1" r="6.9"/>
<circle cx="1396.2" cy="237.0" r="6.9"/>
<circle cx="1396.9" cy="236.8" r="6.9"/>
<circle cx="1397.6" cy="236.7" r="6.9"/>
<circle cx="1398.2" cy="236.6" r="6.9"/>
<circle cx="1398.9" cy="236.5" r="6.9"/>
<circle cx="1399.6" cy="236.3" r="6.9"/>
<circle cx="1400.3" cy="236.2" r="6.9"/>
<circle cx="1400.9" cy="236.1" r="6.9"/>
<circle cx="1401.6" cy="235.9" r="6.9"/>
<circle cx="1402.3" cy="235.8" r="6.9"/>
<circle cx="1403.0" cy="235.7" r="6.9"/>
<circle cx="1403.6" cy="235.6" r="6.9"/>
<circle cx="1404.3" cy="235.5" r="6.9"/>
<circle cx="1404.9" cy="235.3" r="6.9"/>
<circle cx="1405.6" cy="235.2" r="6.9"/>
<circle cx="1406.2" cy="235.1" r="6.9"/>
<circle cx="1406.9" cy="234.9" r="6.9"/>
<circle cx="1407.5" cy="234.7" r="6.9"/>
<circle cx="1408.2" cy="234.6" r="6.9"/>
<circle cx="1408.8" cy="234.4" r="6.9"/>
<circle cx="1409.5" cy="234.2" r="6.9"/>
<circle cx="1410.1" cy="234.0" r="6.9"/>
<circle cx="1410.7" cy="233.8" r="6.9"/>
<circle cx="1411.4" cy="233.6" r="6.9"/>
<circle cx="1412.0" cy="233.4" r="6.9"/>
<circle cx="1412.6" cy="233.2" r="6.9"/>
<circle cx="1413.3" cy="233.0" r="6.9"/>
<circle cx="1413.9" cy="232.8" r="6.9"/>
<circle cx="1414.5" cy="232.6" r="6.9"/>
<circle cx="1415.1" cy="232.5" r="6.9"/>
<circle cx="1415.8" cy="232.3" r="6.9"/>
<circle cx="1416.4" cy="232.1" r="6.9"/>
<circle cx="1417.0" cy="231.9" r="6.9"/>
<circle cx="1417.6" cy="231.7" r="6.9"/>
<circle cx="1418.2" cy="231.5" r="6.9"/>
<circle cx="1418.8" cy="231.3" r="6.9"/>
<circle cx="1419.4" cy="231.2" r="6.9"/>
<circle cx="1420.0" cy="231.0" r="6.9"/>
<circle cx="1420.6" cy="230.8" r="6.9"/>
<circle cx="1421.2" cy="230.6" r="6.9"/>
<circle cx="1421.8" cy="230.4" r="6.9"/>
<circle cx="1422.4" cy="230.3" r="6.9"/>
<circle cx="1423.0" cy="230.1" r="6.9"/>
<circle cx="1423.6" cy="229.9" r="6.9"/>
<circle cx="1424.2" cy="229.7" r="6.9"/>
<circle cx="1424.8" cy="229.5" r="6.9"/>
<circle cx="1425.4" cy="229.4" r="6.9"/>
<circle cx="1426.0" cy="229.2" r="6.9"/>
<circle cx="1426.6" cy="229.0" r="6.9"/>
<circle cx="1427.2" cy="228.8" r="6.9"/>
<circle cx="1427.8" cy="228.7" r="6.9"/>
<circle cx="1428.3" cy="228.5" r="6.9"/>
<circle cx="1428.9" cy="228.3" r="6.9"/>
<circle cx="1429.5" cy="228.1" r="6.9"/>
<circle cx="1430.1" cy="228.0" r="6.9"/>
<circle cx="1430.7" cy="227.8" r="6.9"/>
<circle cx="1431.2" cy="227.6" r="6.9"/>
<circle cx="1431.8" cy="227.4" r="6.9"/>
<circle cx="1432.4" cy="227.3" r="6.9"/>
<circle cx="1433.0" cy="227.1" r="6.9"/>
<circle cx="1433.5" cy="226.9" r="6.9"/>
<circle cx="1434.1" cy="226.8" r="6.9"/>
<circle cx="1434.7" cy="226.6" r="6.9"/>
<circle cx="1435.2" cy="226.4" r="6.9"/>
<circle cx="1435.8" cy="226.3" r="6.9"/>
<circle cx="1436.4" cy="226.1" r="6.9"/>
<circle cx="1436.9" cy="225.9" r="6.9"/>
<circle cx="1437.5" cy="225.7" r="6.9"/>
<circle cx="1438.1" cy="225.6" r="6.9"/>
<circle cx="1438.6" cy="225.4" r="6.9"/>
<circle cx="1439.2" cy="225.2" r="6.9"/>
<circle cx="1439.7" cy="225.1" r="6.9"/>
<circle cx="1440.3" cy="224.9" r="6.9"/>
<circle cx="1440.9" cy="224.7" r="6.9"/>
<circle cx="1441.4" cy="224.4" r="6.9"/>
<circle cx="1442.0" cy="224.2" r="6.9"/>
<circle cx="1442.5" cy="224.0" r="6.9"/>
<circle cx="1443.1" cy="223.8" r="6.9"/>
<circle cx="1443.6" cy="223.5" r="6.9"/>
<circle cx="1444.2" cy="223.3" r="6.9"/>
<circle cx="1444.7" cy="223.1" r="6.9"/>
<circle cx="1445.3" cy="222.9" r="6.9"/>
<circle cx="1445.8" cy="222.7" r="6.9"/>
<circle cx="1446.4" cy="222.4" r="6.9"/>
<circle cx="1446.9" cy="222.2" r="6.9"/>
<circle cx="1447.4" cy="222.0" r="6.9"/>
<circle cx="1448.0" cy="221.8" r="6.9"/>
<circle cx="1448.5" cy="221.6" r="6.9"/>
<circle cx="1449.1" cy="221.4" r="6.9"/>
<circle cx="1449.6" cy="221.1" r="6.9"/>
<circle cx="1450.2" cy="220.9" r="6.9"/>
<circle cx="1450.7" cy="220.7" r="6.9"/>
<circle cx="1451.2" cy="220.5" r="6.9"/>
<circle cx="1451.8" cy="220.3" r="6.9"/>
<circle cx="1452.3" cy="220.1" r="6.9"/>
<circle cx="1452.9" cy="219.8" r="6.9"/>
<circle cx="1453.4" cy="219.6" r="6.9"/>
<circle cx="1453.9" cy="219.4" r="6.9"/>
<circle cx="1454.5" cy="219.2" r="6.9"/>
<circle cx="1455.0" cy="219.0" r="6.9"/>
<circle cx="1455.5" cy="218.8" r="6.9"/>
<circle cx="1456.1" cy="218.6" r="6.9"/>
<circle cx="1456.6" cy="218.3" r="6.9"/>
<circle cx="1457.1" cy="218.1" r="6.9"/>
<circle cx="1457.7" cy="217.9" r="6.9"/>
<circle cx="1458.2" cy="217.6" r="6.9"/>
<circle cx="1458.7" cy="217.4" r="6.9"/>
<circle cx="1459.2" cy="217.2" r="6.9"/>
<circle cx="1459.8" cy="216.9" r="6.9"/>
<circle cx="1460.3" cy="216.7" r="6.9"/>
<circle cx="1460.8" cy="216.4" r="6.9"/>
<circle cx="1461.3" cy="216.2" r="6.9"/>
<circle cx="1461.9" cy="216.0" r="6.9"/>
<circle cx="1462.4" cy="215.7" r="6.9"/>
<circle cx="1462.9" cy="215.5" r="6.9"/>
<circle cx="1463.4" cy="215.3" r="6.9"/>
<circle cx="1464.0" cy="215.0" r="6.9"/>
<circle cx="1464.5" cy="214.8" r="6.9"/>
<circle cx="1465.0" cy="214.5" r="6.9"/>
<circle cx="1465.5" cy="214.3" r="6.9"/>
<circle cx="1466.1" cy="214.1" r="6.9"/>
<circle cx="1466.6" cy="213.8" r="6.9"/>
<circle cx="1467.1" cy="213.6" r="6.9"/>
<circle cx="1467.6" cy="213.4" r="6.9"/>
<circle cx="1468.2" cy="213.1" r="6.9"/>
<circle cx="1468.7" cy="212.9" r="6.9"/>
<circle cx="1469.2" cy="212.7" r="6.9"/>
<circle cx="1469.7" cy="212.4" r="6.9"/>
<circle cx="1470.2" cy="212.2" r="6.9"/>
<circle cx="1470.7" cy="212.0" r="6.9"/>
<circle cx="1471.3" cy="211.7" r="6.9"/>
<circle cx="1471.8" cy="211.5" r="6.9"/>
<circle cx="1472.3" cy="211.3" r="6.9"/>
<circle cx="1472.8" cy="211.0" r="6.9"/>
<circle cx="1473.3" cy="210.8" r="6.9"/>
<circle cx="1473.9" cy="210.6" r="6.9"/>
<circle cx="1474.4" cy="210.4" r="6.9"/>
<circle cx="1474.9" cy="210.2" r="6.9"/>
<circle cx="1475.4" cy="210.0" r="6.9"/>
<circle cx="1475.9" cy="209.8" r="6.9"/>
<circle cx="1476.4" cy="209.6" r="6.9"/>
<circle cx="1477.0" cy="209.4" r="6.9"/>
<circle cx="1477.5" cy="209.2" r="6.9"/>
<circle cx="1478.0" cy="208.9" r="6.9"/>
<circle cx="1478.5" cy="208.7" r="6.9"/>
<circle cx="1479.0" cy="208.5" r="6.9"/>
<circle cx="1479.5" cy="208.3" r="6.9"/>
<circle cx="1480.0" cy="208.1" r="6.9"/>
<circle cx="1480.6" cy="207.9" r="6.9"/>
<circle cx="1481.1" cy="207.7" r="6.9"/>
<circle cx="1481.6" cy="207.5" r="6.9"/>
<circle cx="1482.1" cy="207.3" r="6.9"/>
<circle cx="1482.6" cy="207.1" r="6.9"/>
<circle cx="1483.1" cy="206.9" r="6.9"/>
<circle cx="1483.6" cy="206.7" r="6.9"/>
<circle cx="1484.2" cy="206.5" r="6.9"/>
<circle cx="1484.7" cy="206.3" r="6.9"/>
<circle cx="1485.2" cy="206.1" r="6.9"/>
<circle cx="1485.7" cy="205.9" r="6.9"/>
<circle cx="1486.2" cy="205.7" r="6.9"/>
<circle cx="1486.7" cy="205.5" r="6.9"/>
<circle cx="1487.2" cy="205.3" r="6.9"/>
<circle cx="1487.7" cy="205.1" r="6.9"/>
<circle cx="1488.3" cy="204.9" r="6.9"/>
<circle cx="1488.8" cy="204.7" r="6.9"/>
<circle cx="1489.3" cy="204.5" r="6.9"/>
<circle cx="1489.8" cy="204.3" r="6.9"/>
<circle cx="1490.3" cy="204.1" r="6.9"/>
<circle cx="1490.8" cy="204.0" r="6.9"/>
<circle cx="1491.3" cy="203.9" r="6.9"/>
<circle cx="1491.8" cy="203.7" r="6.9"/>
<circle cx="1492.4" cy="203.6" r="6.9"/>
<circle cx="1492.9" cy="203.5" r="6.9"/>
<circle cx="1493.4" cy="203.3" r="6.9"/>
<circle cx="1493.9" cy="203.2" r="6.9"/>
<circle cx="1494.4" cy="203.1" r="6.9"/>
<circle cx="1494.9" cy="203.0" r="6.9"/>
<circle cx="1495.4" cy="202.8" r="6.9"/>
<circle cx="1496.0" cy="202.7" r="6.9"/>
<circle cx="1496.5" cy="202.6" r="6.9"/>
<circle cx="1497.0" cy="202.4" r="6.9"/>
<circle cx="1497.5" cy="202.3" r="6.9"/>
<circle cx="1498.0" cy="202.2" r="6.9"/>
<circle cx="1498.5" cy="202.1" r="6.9"/>
<circle cx="1499.0" cy="201.9" r="6.9"/>
<circle cx="1499.6" cy="201.8" r="6.9"/>
<circle cx="1500.1" cy="201.7" r="6.9"/>
<circle cx="1500.6" cy="201.5" r="6.9"/>
<circle cx="1501.1" cy="201.4" r="6.9"/>
<circle cx="1501.6" cy="201.3" r="6.9"/>
<circle cx="1502.1" cy="201.1" r="6.9"/>
<circle cx="1502.7" cy="201.0" r="6.9"/>
<circle cx="1503.2" cy="200.9" r="6.9"/>
<circle cx="1503.7" cy="200.8" r="6.9"/>
<circle cx="1504.2" cy="200.6" r="6.9"/>
<circle cx="1504.7" cy="200.5" r="6.9"/>
<circle cx="1505.3" cy="200.4" r="6.9"/>
<circle cx="1505.8" cy="200.2" r="6.9"/>
<circle cx="1506.3" cy="200.1" r="6.9"/>
<circle cx="1506.8" cy="200.0" r="6.9"/>
<circle cx="1507.3" cy="199.7" r="6.9"/>
<circle cx="1507.8" cy="199.5" r="6.9"/>
<circle cx="1508.4" cy="199.3" r="6.9"/>
<circle cx="1508.9" cy="199.1" r="6.9"/>
<circle cx="1509.4" cy="198.9" r="6.9"/>
<circle cx="1509.9" cy="198.7" r="6.9"/>
<circle cx="1510.5" cy="198.5" r="6.9"/>
<circle cx="1511.0" cy="198.3" r="6.9"/>
<circle cx="1511.5" cy="198.1" r="6.9"/>
<circle cx="1512.0" cy="197.9" r="6.9"/>
<circle cx="1512.6" cy="197.6" r="6.9"/>
<circle cx="1513.1" cy="197.4" r="6.9"/>
<circle cx="1513.6" cy="197.2" r="6.9"/>
<circle cx="1514.1" cy="197.0" r="6.9"/>
<circle cx="1514.7" cy="196.8" r="6.9"/>
<circle cx="1515.2" cy="196.6" r="6.9"/>
<circle cx="1515.7" cy="196.4" r="6.9"/>
<circle cx="1516.2" cy="196.2" r="6.9"/>
<circle cx="1516.8" cy="195.9" r="6.9"/>
<circle cx="1517.3" cy="195.7" r="6.9"/>
<circle cx="1517.8" cy="195.5" r="6.9"/>
<circle cx="1518.3" cy="195.3" r="6.9"/>
<circle cx="1518.9" cy="195.1" r="6.9"/>
<circle cx="1519.4" cy="194.9" r="6.9"/>
<circle cx="1519.9" cy="194.7" r="6.9"/>
<circle cx="1520.5" cy="194.4" r="6.9"/>
<circle cx="1521.0" cy="194.2" r="6.9"/>
<circle cx="1521.5" cy="194.0" r="6.9"/>
<circle cx="1522.1" cy="193.8" r="6.9"/>
<circle cx="1522.6" cy="193.6" r="6.9"/>
<circle cx="1523.1" cy="193.4" r="6.9"/>
<circle cx="1523.7" cy="193.1" r="6.9"/>
<circle cx="1524.2" cy="192.7" r="6.9"/>
<circle cx="1524.8" cy="192.4" r="6.9"/>
<circle cx="1525.3" cy="192.1" r="6.9"/>
<circle cx="1525.8" cy="191.8" r="6.9"/>
<circle cx="1526.4" cy="191.5" r="6.9"/>
<circle cx="1526.9" cy="191.1" r="6.9"/>
<circle cx="1527.5" cy="190.8" r="6.9"/>
<circle cx="1528.0" cy="190.5" r="6.9"/>
<circle cx="1528.6" cy="190.2" r="6.9"/>
<circle cx="1529.1" cy="189.8" r="6.9"/>
<circle cx="1529.6" cy="189.5" r="6.9"/>
<circle cx="1530.2" cy="189.2" r="6.9"/>
<circle cx="1530.7" cy="188.8" r="6.9"/>
<circle cx="1531.3" cy="188.5" r="6.9"/>
<circle cx="1531.8" cy="188.2" r="6.9"/>
<circle cx="1532.4" cy="187.9" r="6.9"/>
<circle cx="1532.9" cy="187.5" r="6.9"/>
<circle cx="1533.5" cy="187.2" r="6.9"/>
<circle cx="1534.0" cy="186.9" r="6.9"/>
<circle cx="1534.6" cy="186.5" r="6.9"/>
<circle cx="1535.1" cy="186.2" r="6.9"/>
<circle cx="1535.7" cy="185.9" r="6.9"/>
<circle cx="1536.3" cy="185.5" r="6.9"/>
<circle cx="1536.8" cy="185.2" r="6.9"/>
<circle cx="1537.4" cy="184.9" r="6.9"/>
<circle cx="1537.9" cy="184.5" r="6.9"/>
<circle cx="1538.5" cy="184.2" r="6.9"/>
<circle cx="1539.1" cy="183.9" r="6.9"/>
<circle cx="1539.6" cy="183.5" r="6.9"/>
<circle cx="1540.2" cy="183.2" r="6.9"/>
<circle cx="1540.8" cy="182.8" r="6.9"/>
<circle cx="1541.3" cy="182.5" r="6.9"/>
<circle cx="1541.9" cy="182.2" r="6.9"/>
<circle cx="1542.5" cy="181.8" r="6.9"/>
<circle cx="1543.0" cy="181.5" r="6.9"/>
<circle cx="1543.6" cy="181.1" r="6.9"/>
<circle cx="1544.2" cy="180.8" r="6.9"/>
<circle cx="1544.8" cy="180.5" r="6.9"/>
<circle cx="1545.3" cy="180.1" r="6.9"/>
<circle cx="1545.9" cy="179.8" r="6.9"/>
<circle cx="1546.5" cy="179.4" r="6.9"/>
<circle cx="1547.1" cy="179.1" r="6.9"/>
<circle cx="1547.7" cy="178.7" r="6.9"/>
<circle cx="1548.2" cy="178.4" r="6.9"/>
<circle cx="1548.8" cy="178.0" r="6.9"/>
<circle cx="1549.4" cy="177.7" r="6.9"/>
<circle cx="1550.0" cy="177.3" r="6.9"/>
<circle cx="1550.6" cy="177.0" r="6.9"/>
<circle cx="1551.2" cy="176.6" r="6.9"/>
<circle cx="1551.8" cy="176.3" r="6.9"/>
<circle cx="1552.4" cy="175.9" r="6.9"/>
<circle cx="1553.0" cy="175.5" r="6.9"/>
<circle cx="1553.6" cy="175.2" r="6.9"/>
<circle cx="1554.2" cy="174.8" r="6.9"/>
<circle cx="1554.8" cy="174.5" r="6.9"/>
<circle cx="1555.4" cy="174.1" r="6.9"/>
<circle cx="1556.0" cy="173.7" r="6.9"/>
<circle cx="1556.6" cy="173.4" r="6.9"/>
<circle cx="1557.2" cy="173.0" r="6.9"/>
<circle cx="1557.8" cy="172.7" r="6.9"/>
<circle cx="1558.4" cy="172.4" r="6.9"/>
<circle cx="1559.0" cy="172.0" r="6.9"/>
<circle cx="1559.6" cy="171.7" r="6.9"/>
<circle cx="1560.2" cy="171.4" r="6.9"/>
<circle cx="1560.9" cy="171.0" r="6.9"/>
<circle cx="1561.5" cy="170.7" r="6.9"/>
<circle cx="1562.1" cy="170.3" r="6.9"/>
<circle cx="1562.7" cy="170.0" r="6.9"/>
<circle cx="1563.4" cy="169.6" r="6.9"/>
<circle cx="1564.0" cy="169.3" r="6.9"/>
<circle cx="1564.6" cy="169.0" r="6.9"/>
<circle cx="1565.3" cy="168.6" r="6.9"/>
<circle cx="1565.9" cy="168.3" r="6.9"/>
<circle cx="1566.5" cy="167.9" r="6.9"/>
<circle cx="1567.2" cy="167.6" r="6.9"/>
<circle cx="1567.8" cy="167.2" r="6.9"/>
<circle cx="1568.5" cy="166.9" r="6.9"/>
<circle cx="1569.1" cy="166.5" r="6.9"/>
<circle cx="1569.8" cy="166.1" r="6.9"/>
<circle cx="1570.4" cy="165.8" r="6.9"/>
<circle cx="1571.1" cy="165.4" r="6.9"/>
<circle cx="1571.7" cy="165.1" r="6.9"/>
<circle cx="1572.4" cy="164.7" r="6.9"/>
<circle cx="1573.0" cy="164.3" r="6.9"/>
<circle cx="1573.7" cy="164.0" r="6.9"/>
<circle cx="1574.4" cy="163.7" r="6.9"/>
<circle cx="1575.1" cy="163.4" r="6.9"/>
<circle cx="1575.7" cy="163.1" r="6.9"/>
<circle cx="1576.4" cy="162.8" r="6.9"/>
<circle cx="1577.1" cy="162.5" r="6.9"/>
<circle cx="1577.8" cy="162.2" r="6.9"/>
<circle cx="1578.4" cy="161.9" r="6.9"/>
<circle cx="1579.1" cy="161.6" r="6.9"/>
<circle cx="1579.8" cy="161.3" r="6.9"/>
<circle cx="1580.5" cy="161.0" r="6.9"/>
<circle cx="1581.2" cy="160.6" r="6.9"/>
<circle cx="1581.9" cy="160.3" r="6.9"/>
<circle cx="1582.6" cy="160.0" r="6.9"/>
<circle cx="1583.3" cy="159.7" r="6.9"/>
<circle cx="1584.1" cy="159.4" r="6.9"/>
<circle cx="1584.8" cy="159.1" r="6.9"/>
<circle cx="1585.5" cy="158.7" r="6.9"/>
<circle cx="1586.2" cy="158.4" r="6.9"/>
<circle cx="1586.9" cy="158.1" r="6.9"/>
<circle cx="1587.7" cy="157.7" r="6.9"/>
<circle cx="1588.4" cy="157.4" r="6.9"/>
<circle cx="1589.1" cy="157.1" r="6.9"/>
<circle cx="1589.9" cy="156.8" r="6.9"/>
<circle cx="1590.6" cy="156.4" r="6.9"/>
<circle cx="1591.4" cy="156.1" r="6.9"/>
<circle cx="1592.1" cy="155.7" r="6.9"/>
<circle cx="1592.9" cy="155.4" r="6.9"/>
<circle cx="1593.6" cy="155.1" r="6.9"/>
<circle cx="1594.4" cy="154.7" r="6.9"/>
<circle cx="1595.2" cy="154.4" r="6.9"/>
<circle cx="1596.0" cy="154.0" r="6.9"/>
<circle cx="1596.7" cy="153.7" r="6.9"/>
<circle cx="1597.5" cy="153.3" r="6.9"/>
<circle cx="1598.3" cy="153.0" r="6.9"/>
<circle cx="1599.1" cy="152.6" r="6.9"/>
<circle cx="1599.9" cy="152.3" r="6.9"/>
<circle cx="1600.7" cy="151.9" r="6.9"/>
<circle cx="1601.5" cy="151.5" r="6.9"/>
<circle cx="1602.3" cy="151.2" r="6.9"/>
<circle cx="1603.2" cy="150.8" r="6.9"/>
<circle cx="1604.0" cy="150.4" r="6.9"/>
<circle cx="1604.8" cy="150.0" r="6.9"/>
<circle cx="1605.7" cy="149.7" r="6.9"/>
<circle cx="1606.5" cy="149.3" r="6.9"/>
<circle cx="1607.4" cy="149.0" r="6.9"/>
<circle cx="1608.2" cy="148.8" r="6.9"/>
<circle cx="1609.1" cy="148.6" r="6.9"/>
<circle cx="1609.9" cy="148.4" r="6.9"/>
<circle cx="1610.8" cy="148.2" r="6.9"/>
<circle cx="1611.7" cy="147.9" r="6.9"/>
<circle cx="1612.6" cy="147.7" r="6.9"/>
<circle cx="1613.5" cy="147.5" r="6.9"/>
<circle cx="1614.4" cy="147.3" r="6.9"/>
<circle cx="1615.3" cy="147.0" r="6.9"/>
<circle cx="1616.2" cy="146.8" r="6.9"/>
<circle cx="1617.1" cy="146.6" r="6.9"/>
<circle cx="1618.1" cy="146.3" r="6.9"/>
<circle cx="1619.0" cy="146.1" r="6.9"/>
<circle cx="1620.0" cy="145.8" r="6.9"/>
<circle cx="1620.9" cy="145.6" r="6.9"/>
<circle cx="1621.9" cy="145.4" r="6.9"/>
<circle cx="1622.9" cy="145.1" r="6.9"/>
<circle cx="1623.9" cy="144.9" r="6.9"/>
<circle cx="1624.9" cy="144.6" r="6.9"/>
<circle cx="1625.9" cy="144.4" r="6.9"/>
<circle cx="1626.9" cy="144.2" r="6.9"/>
<circle cx="1627.9" cy="143.9" r="6.9"/>
<circle cx="1629.0" cy="143.7" r="6.9"/>
<circle cx="1630.0" cy="143.5" r="6.9"/>
<circle cx="1631.1" cy="143.2" r="6.9"/>
<circle cx="1632.1" cy="143.0" r="6.9"/>
<circle cx="1633.2" cy="142.7" r="6.9"/>
<circle cx="1634.3" cy="142.5" r="6.9"/>
<circle cx="1635.4" cy="142.2" r="6.9"/>
<circle cx="1636.5" cy="142.0" r="6.9"/>
<circle cx="1637.7" cy="141.7" r="6.9"/>
<circle cx="1638.8" cy="141.5" r="6.9"/>
<circle cx="1640.0" cy="141.2" r="6.9"/>
<circle cx="1641.2" cy="140.8" r="6.9"/>
<circle cx="1642.4" cy="140.4" r="6.9"/>
<circle cx="1643.6" cy="140.0" r="6.9"/>
<circle cx="1644.8" cy="139.6" r="6.9"/>
<circle cx="1646.0" cy="139.2" r="6.9"/>
<circle cx="1647.3" cy="138.8" r="6.9"/>
<circle cx="1648.6" cy="138.4" r="6.9"/>
<circle cx="1649.9" cy="138.0" r="6.9"/>
<circle cx="1651.2" cy="137.6" r="6.9"/>
<circle cx="1652.5" cy="137.1" r="6.9"/>
<circle cx="1653.9" cy="136.7" r="6.9"/>
<circle cx="1655.3" cy="136.3" r="6.9"/>
<circle cx="1656.7" cy="135.8" r="6.9"/>
<circle cx="1658.1" cy="135.7" r="6.9"/>
<circle cx="1659.6" cy="135.6" r="6.9"/>
<circle cx="1661.1" cy="135.4" r="6.9"/>
<circle cx="1662.6" cy="135.3" r="6.9"/>
<circle cx="1664.1" cy="135.2" r="6.9"/>
<circle cx="1665.7" cy="135.0" r="6.9"/>
<circle cx="1667.3" cy="134.8" r="6.9"/>
<circle cx="1668.9" cy="134.5" r="6.9"/>
<circle cx="1670.6" cy="134.2" r="6.9"/>
<circle cx="1672.3" cy="133.9" r="6.9"/>
<circle cx="1674.0" cy="133.5" r="6.9"/>
<circle cx="1675.8" cy="133.2" r="6.9"/>
<circle cx="1677.6" cy="132.4" r="6.9"/>
<circle cx="1679.5" cy="131.5" r="6.9"/>
<circle cx="1681.5" cy="130.5" r="6.9"/>
<circle cx="1683.4" cy="129.5" r="6.9"/>
<circle cx="1685.5" cy="128.5" r="6.9"/>
<circle cx="1687.6" cy="127.5" r="6.9"/>
<circle cx="1689.7" cy="126.4" r="6.9"/>
<circle cx="1692.0" cy="125.3" r="6.9"/>
<circle cx="1694.3" cy="124.2" r="6.9"/>
<circle cx="1696.6" cy="123.3" r="6.9"/>
<circle cx="1699.1" cy="122.4" r="6.9"/>
<circle cx="1701.7" cy="121.4" r="6.9"/>
<circle cx="1704.4" cy="120.4" r="6.9"/>
<circle cx="1707.2" cy="119.5" r="6.9"/>
<circle cx="1710.1" cy="118.5" r="6.9"/>
<circle cx="1713.1" cy="117.5" r="6.9"/>
<circle cx="1716.4" cy="116.5" r="6.9"/>
<circle cx="1719.7" cy="115.4" r="6.9"/>
<circle cx="1723.3" cy="114.3" r="6.9"/>
<circle cx="1727.2" cy="113.3" r="6.9"/>
<circle cx="1731.3" cy="112.6" r="6.9"/>
<circle cx="1735.7" cy="111.8" r="6.9"/>
<circle cx="1740.5" cy="111.1" r="6.9"/>
<circle cx="1745.7" cy="110.3" r="6.9"/>
<circle cx="1751.5" cy="108.3" r="6.9"/>
<circle cx="1117.0" cy="341.7" r="6.9"/>
<circle cx="1157.0" cy="328.3" r="6.9"/>
<circle cx="1177.0" cy="318.7" r="6.9"/>
<circle cx="1190.8" cy="306.3" r="6.9"/>
<circle cx="1201.3" cy="300.8" r="6.9"/>
<circle cx="1210.0" cy="293.3" r="6.9"/>
<circle cx="1217.5" cy="287.5" r="6.9"/>
<circle cx="1758.1" cy="105.6" r="6.9"/>
<circle cx="1765.6" cy="105.6" r="6.9"/>
<circle cx="1774.4" cy="104.8" r="6.9"/>
<circle cx="1785.0" cy="104.4" r="6.9"/>
<circle cx="1798.5" cy="102.2" r="6.9"/>
<circle cx="1818.5" cy="98.8" r="6.9"/>
<circle cx="1858.5" cy="92.9" r="6.9"/>
</g>
<line x1="1117.20" y1="356.60" x2="1837.50" y2="58.00" stroke="#7f7f7f" stroke-width="2.0" stroke-linecap="round" stroke-dasharray="2 6"/>
</g>
<rect x="1087.60" y="63.80" width="800.60" height="288.50" fill="none" stroke="#000" stroke-width="2.0"/>
<line x1="1133.00" y1="352.30" x2="1133.00" y2="368.60" stroke="#000" stroke-width="2.0" stroke-linecap="butt"/>
<text transform="translate(1133.00 409.50) scale(1 1.04)" font-size="26.56" text-anchor="middle" fill="#000">-3</text>
<line x1="1251.33" y1="352.30" x2="1251.33" y2="368.60" stroke="#000" stroke-width="2.0" stroke-linecap="butt"/>
<text transform="translate(1251.33 409.50) scale(1 1.04)" font-size="26.56" text-anchor="middle" fill="#000">-2</text>
<line x1="1369.66" y1="352.30" x2="1369.66" y2="368.60" stroke="#000" stroke-width="2.0" stroke-linecap="butt"/>
<text transform="translate(1369.66 409.50) scale(1 1.04)" font-size="26.56" text-anchor="middle" fill="#000">-1</text>
<line x1="1487.99" y1="352.30" x2="1487.99" y2="368.60" stroke="#000" stroke-width="2.0" stroke-linecap="butt"/>
<text transform="translate(1487.99 409.50) scale(1 1.04)" font-size="26.56" text-anchor="middle" fill="#000">0</text>
<line x1="1606.32" y1="352.30" x2="1606.32" y2="368.60" stroke="#000" stroke-width="2.0" stroke-linecap="butt"/>
<text transform="translate(1606.32 409.50) scale(1 1.04)" font-size="26.56" text-anchor="middle" fill="#000">1</text>
<line x1="1724.65" y1="352.30" x2="1724.65" y2="368.60" stroke="#000" stroke-width="2.0" stroke-linecap="butt"/>
<text transform="translate(1724.65 409.50) scale(1 1.04)" font-size="26.56" text-anchor="middle" fill="#000">2</text>
<line x1="1842.98" y1="352.30" x2="1842.98" y2="368.60" stroke="#000" stroke-width="2.0" stroke-linecap="butt"/>
<text transform="translate(1842.98 409.50) scale(1 1.04)" font-size="26.56" text-anchor="middle" fill="#000">3</text>
<line x1="1071.30" y1="71.70" x2="1087.60" y2="71.70" stroke="#000" stroke-width="2.0" stroke-linecap="butt"/>
<text transform="translate(1049.00 71.70) rotate(-90) scale(1 1.04)" font-size="26.56" text-anchor="middle" fill="#000">3</text>
<line x1="1071.30" y1="115.37" x2="1087.60" y2="115.37" stroke="#000" stroke-width="2.0" stroke-linecap="butt"/>
<text transform="translate(1049.00 115.37) rotate(-90) scale(1 1.04)" font-size="26.56" text-anchor="middle" fill="#000">2</text>
<line x1="1071.30" y1="159.04" x2="1087.60" y2="159.04" stroke="#000" stroke-width="2.0" stroke-linecap="butt"/>
<text transform="translate(1049.00 159.04) rotate(-90) scale(1 1.04)" font-size="26.56" text-anchor="middle" fill="#000">1</text>
<line x1="1071.30" y1="202.71" x2="1087.60" y2="202.71" stroke="#000" stroke-width="2.0" stroke-linecap="butt"/>
<text transform="translate(1049.00 202.71) rotate(-90) scale(1 1.04)" font-size="26.56" text-anchor="middle" fill="#000">0</text>
<line x1="1071.30" y1="246.38" x2="1087.60" y2="246.38" stroke="#000" stroke-width="2.0" stroke-linecap="butt"/>
<text transform="translate(1049.00 246.38) rotate(-90) scale(1 1.04)" font-size="26.56" text-anchor="middle" fill="#000">-1</text>
<line x1="1071.30" y1="290.05" x2="1087.60" y2="290.05" stroke="#000" stroke-width="2.0" stroke-linecap="butt"/>
<line x1="1071.30" y1="333.72" x2="1087.60" y2="333.72" stroke="#000" stroke-width="2.0" stroke-linecap="butt"/>
<text transform="translate(1049.00 333.72) rotate(-90) scale(1 1.04)" font-size="26.56" text-anchor="middle" fill="#000">-3</text>
<text transform="translate(1487.90 48.90) scale(1 1.01)" font-size="31.87" text-anchor="middle" fill="#000">Q-Q Residuals</text>
<text transform="translate(1487.90 472.80) scale(1 1.04)" font-size="26.56" text-anchor="middle" fill="#000">Theoretical Quantiles</text>
<text transform="translate(985.30 208.00) rotate(-90) scale(1 1.04)" font-size="26.56" text-anchor="middle" fill="#000" textLength="271.5" lengthAdjust="spacingAndGlyphs">Standardized residuals</text>
<text transform="translate(1125.00 346.60) scale(1 1.04)" font-size="19.5" text-anchor="start" fill="#000">54</text>
<text transform="translate(1166.50 333.40) scale(1 1.04)" font-size="19.5" text-anchor="start" fill="#000">185</text>
<text transform="translate(1186.50 323.70) scale(1 1.04)" font-size="19.5" text-anchor="start" fill="#000">184</text>
<clipPath id="c3"><rect x="128.6" y="544.8" width="798.6" height="286.5"/></clipPath>
<g clip-path="url(#c3)">
<g fill="#27276d">
<circle cx="161.7" cy="689.2" r="6.9"/>
<circle cx="157.0" cy="699.2" r="6.9"/>
<circle cx="185.0" cy="675.0" r="6.9"/>
<circle cx="202.5" cy="688.7" r="6.9"/>
<circle cx="224.2" cy="688.3" r="6.9"/>
<circle cx="219.2" cy="692.0" r="6.9"/>
<circle cx="238.3" cy="680.0" r="6.9"/>
<circle cx="243.3" cy="680.0" r="6.9"/>
<circle cx="311.7" cy="613.0" r="6.9"/>
<circle cx="290.8" cy="635.8" r="6.9"/>
<circle cx="302.5" cy="642.5" r="6.9"/>
<circle cx="306.7" cy="650.8" r="6.9"/>
<circle cx="317.5" cy="655.3" r="6.9"/>
<circle cx="311.7" cy="660.0" r="6.9"/>
<circle cx="297.5" cy="660.8" r="6.9"/>
<circle cx="284.2" cy="664.2" r="6.9"/>
<circle cx="277.5" cy="673.7" r="6.9"/>
<circle cx="327.5" cy="640.8" r="6.9"/>
<circle cx="329.2" cy="648.3" r="6.9"/>
<circle cx="340.0" cy="633.3" r="6.9"/>
<circle cx="265.0" cy="685.3" r="6.9"/>
<circle cx="272.5" cy="689.2" r="6.9"/>
<circle cx="276.7" cy="695.0" r="6.9"/>
<circle cx="285.0" cy="693.3" r="6.9"/>
<circle cx="269.2" cy="698.3" r="6.9"/>
<circle cx="306.7" cy="676.7" r="6.9"/>
<circle cx="304.2" cy="683.3" r="6.9"/>
<circle cx="307.5" cy="688.3" r="6.9"/>
<circle cx="304.2" cy="700.0" r="6.9"/>
<circle cx="313.3" cy="666.7" r="6.9"/>
<circle cx="320.0" cy="673.3" r="6.9"/>
<circle cx="328.3" cy="672.5" r="6.9"/>
<circle cx="331.7" cy="681.7" r="6.9"/>
<circle cx="329.2" cy="697.5" r="6.9"/>
<circle cx="399.2" cy="615.8" r="6.9"/>
<circle cx="354.2" cy="638.3" r="6.9"/>
<circle cx="352.5" cy="648.3" r="6.9"/>
<circle cx="363.3" cy="634.2" r="6.9"/>
<circle cx="370.8" cy="631.7" r="6.9"/>
<circle cx="380.8" cy="635.8" r="6.9"/>
<circle cx="369.2" cy="641.7" r="6.9"/>
<circle cx="365.8" cy="648.3" r="6.9"/>
<circle cx="363.3" cy="656.7" r="6.9"/>
<circle cx="373.3" cy="653.3" r="6.9"/>
<circle cx="380.0" cy="650.0" r="6.9"/>
<circle cx="390.0" cy="653.3" r="6.9"/>
<circle cx="395.0" cy="638.3" r="6.9"/>
<circle cx="405.0" cy="633.3" r="6.9"/>
<circle cx="401.7" cy="646.7" r="6.9"/>
<circle cx="410.0" cy="646.7" r="6.9"/>
<circle cx="419.2" cy="645.0" r="6.9"/>
<circle cx="426.7" cy="653.3" r="6.9"/>
<circle cx="413.3" cy="655.0" r="6.9"/>
<circle cx="403.3" cy="660.0" r="6.9"/>
<circle cx="406.7" cy="666.7" r="6.9"/>
<circle cx="415.0" cy="666.7" r="6.9"/>
<circle cx="423.3" cy="663.3" r="6.9"/>
<circle cx="428.3" cy="660.0" r="6.9"/>
<circle cx="431.7" cy="637.5" r="6.9"/>
<circle cx="448.3" cy="641.7" r="6.9"/>
<circle cx="443.3" cy="652.5" r="6.9"/>
<circle cx="453.3" cy="650.0" r="6.9"/>
<circle cx="356.7" cy="668.3" r="6.9"/>
<circle cx="365.0" cy="666.7" r="6.9"/>
<circle cx="373.3" cy="663.3" r="6.9"/>
<circle cx="383.3" cy="663.3" r="6.9"/>
<circle cx="376.7" cy="671.7" r="6.9"/>
<circle cx="344.2" cy="675.0" r="6.9"/>
<circle cx="348.3" cy="681.7" r="6.9"/>
<circle cx="355.0" cy="678.3" r="6.9"/>
<circle cx="368.3" cy="676.7" r="6.9"/>
<circle cx="385.0" cy="678.3" r="6.9"/>
<circle cx="346.7" cy="695.8" r="6.9"/>
<circle cx="351.7" cy="686.7" r="6.9"/>
<circle cx="361.7" cy="691.7" r="6.9"/>
<circle cx="365.0" cy="698.3" r="6.9"/>
<circle cx="373.3" cy="686.7" r="6.9"/>
<circle cx="385.0" cy="691.7" r="6.9"/>
<circle cx="388.3" cy="696.7" r="6.9"/>
<circle cx="399.2" cy="684.2" r="6.9"/>
<circle cx="401.7" cy="678.3" r="6.9"/>
<circle cx="400.0" cy="695.0" r="6.9"/>
<circle cx="415.0" cy="676.7" r="6.9"/>
<circle cx="413.3" cy="684.2" r="6.9"/>
<circle cx="423.3" cy="676.7" r="6.9"/>
<circle cx="431.7" cy="680.0" r="6.9"/>
<circle cx="440.0" cy="686.7" r="6.9"/>
<circle cx="446.7" cy="668.3" r="6.9"/>
<circle cx="453.3" cy="686.7" r="6.9"/>
<circle cx="205.8" cy="709.2" r="6.9"/>
<circle cx="243.3" cy="705.0" r="6.9"/>
<circle cx="251.3" cy="700.8" r="6.9"/>
<circle cx="238.3" cy="716.7" r="6.9"/>
<circle cx="232.5" cy="721.7" r="6.9"/>
<circle cx="265.8" cy="706.7" r="6.9"/>
<circle cx="290.8" cy="705.8" r="6.9"/>
<circle cx="294.2" cy="711.7" r="6.9"/>
<circle cx="308.3" cy="719.2" r="6.9"/>
<circle cx="296.7" cy="725.8" r="6.9"/>
<circle cx="306.7" cy="729.2" r="6.9"/>
<circle cx="313.3" cy="729.2" r="6.9"/>
<circle cx="323.3" cy="722.5" r="6.9"/>
<circle cx="333.3" cy="729.2" r="6.9"/>
<circle cx="345.8" cy="731.7" r="6.9"/>
<circle cx="342.5" cy="724.2" r="6.9"/>
<circle cx="351.7" cy="718.3" r="6.9"/>
<circle cx="356.7" cy="723.3" r="6.9"/>
<circle cx="364.2" cy="720.0" r="6.9"/>
<circle cx="361.7" cy="710.0" r="6.9"/>
<circle cx="371.7" cy="710.0" r="6.9"/>
<circle cx="378.3" cy="715.0" r="6.9"/>
<circle cx="377.5" cy="724.2" r="6.9"/>
<circle cx="390.0" cy="715.0" r="6.9"/>
<circle cx="401.7" cy="710.0" r="6.9"/>
<circle cx="414.2" cy="715.0" r="6.9"/>
<circle cx="416.7" cy="701.7" r="6.9"/>
<circle cx="421.7" cy="702.5" r="6.9"/>
<circle cx="440.0" cy="700.8" r="6.9"/>
<circle cx="453.3" cy="710.0" r="6.9"/>
<circle cx="355.0" cy="702.5" r="6.9"/>
<circle cx="393.3" cy="727.5" r="6.9"/>
<circle cx="402.5" cy="725.8" r="6.9"/>
<circle cx="413.3" cy="730.8" r="6.9"/>
<circle cx="421.7" cy="735.8" r="6.9"/>
<circle cx="430.8" cy="729.2" r="6.9"/>
<circle cx="428.3" cy="736.7" r="6.9"/>
<circle cx="445.0" cy="731.7" r="6.9"/>
<circle cx="448.3" cy="736.7" r="6.9"/>
<circle cx="456.7" cy="737.5" r="6.9"/>
<circle cx="170.3" cy="743.3" r="6.9"/>
<circle cx="224.2" cy="739.2" r="6.9"/>
<circle cx="208.3" cy="760.8" r="6.9"/>
<circle cx="184.2" cy="770.5" r="6.9"/>
<circle cx="212.8" cy="775.8" r="6.9"/>
<circle cx="238.0" cy="765.8" r="6.9"/>
<circle cx="234.2" cy="785.0" r="6.9"/>
<circle cx="159.7" cy="785.5" r="6.9"/>
<circle cx="272.2" cy="775.8" r="6.9"/>
<circle cx="282.5" cy="755.0" r="6.9"/>
<circle cx="287.5" cy="751.7" r="6.9"/>
<circle cx="318.0" cy="745.8" r="6.9"/>
<circle cx="334.2" cy="749.2" r="6.9"/>
<circle cx="346.7" cy="752.5" r="6.9"/>
<circle cx="353.3" cy="751.7" r="6.9"/>
<circle cx="364.2" cy="745.8" r="6.9"/>
<circle cx="368.3" cy="750.8" r="6.9"/>
<circle cx="381.7" cy="745.0" r="6.9"/>
<circle cx="389.2" cy="747.5" r="6.9"/>
<circle cx="391.7" cy="754.2" r="6.9"/>
<circle cx="384.2" cy="762.5" r="6.9"/>
<circle cx="397.5" cy="763.3" r="6.9"/>
<circle cx="408.3" cy="766.7" r="6.9"/>
<circle cx="413.3" cy="760.0" r="6.9"/>
<circle cx="422.5" cy="753.3" r="6.9"/>
<circle cx="439.2" cy="748.3" r="6.9"/>
<circle cx="441.7" cy="756.7" r="6.9"/>
<circle cx="451.7" cy="756.7" r="6.9"/>
<circle cx="384.2" cy="775.8" r="6.9"/>
<circle cx="398.0" cy="777.0" r="6.9"/>
<circle cx="314.2" cy="780.8" r="6.9"/>
<circle cx="321.7" cy="784.2" r="6.9"/>
<circle cx="319.7" cy="790.0" r="6.9"/>
<circle cx="338.3" cy="780.0" r="6.9"/>
<circle cx="344.2" cy="785.0" r="6.9"/>
<circle cx="356.7" cy="779.2" r="6.9"/>
<circle cx="365.0" cy="780.8" r="6.9"/>
<circle cx="356.7" cy="791.7" r="6.9"/>
<circle cx="380.0" cy="788.3" r="6.9"/>
<circle cx="386.7" cy="789.2" r="6.9"/>
<circle cx="392.0" cy="798.3" r="6.9"/>
<circle cx="411.3" cy="790.0" r="6.9"/>
<circle cx="432.0" cy="795.8" r="6.9"/>
<circle cx="442.0" cy="786.7" r="6.9"/>
<circle cx="455.8" cy="780.0" r="6.9"/>
<circle cx="455.0" cy="802.5" r="6.9"/>
<circle cx="380.0" cy="805.8" r="6.9"/>
<circle cx="315.0" cy="809.7" r="6.9"/>
<circle cx="358.7" cy="813.8" r="6.9"/>
<circle cx="413.3" cy="814.2" r="6.9"/>
<circle cx="416.7" cy="810.8" r="6.9"/>
<circle cx="425.0" cy="812.5" r="6.9"/>
<circle cx="431.7" cy="813.7" r="6.9"/>
<circle cx="373.3" cy="696.7" r="6.9"/>
<circle cx="356.7" cy="708.3" r="6.9"/>
<circle cx="576.3" cy="583.8" r="6.9"/>
<circle cx="525.5" cy="590.0" r="6.9"/>
<circle cx="493.0" cy="596.7" r="6.9"/>
<circle cx="484.2" cy="602.5" r="6.9"/>
<circle cx="516.3" cy="605.0" r="6.9"/>
<circle cx="540.0" cy="598.3" r="6.9"/>
<circle cx="543.3" cy="604.2" r="6.9"/>
<circle cx="530.8" cy="606.7" r="6.9"/>
<circle cx="572.2" cy="598.3" r="6.9"/>
<circle cx="604.7" cy="596.3" r="6.9"/>
<circle cx="635.3" cy="594.2" r="6.9"/>
<circle cx="632.5" cy="605.0" r="6.9"/>
<circle cx="619.2" cy="609.2" r="6.9"/>
<circle cx="629.2" cy="613.3" r="6.9"/>
<circle cx="592.2" cy="610.3" r="6.9"/>
<circle cx="565.8" cy="612.5" r="6.9"/>
<circle cx="506.7" cy="615.0" r="6.9"/>
<circle cx="485.0" cy="618.3" r="6.9"/>
<circle cx="483.0" cy="627.5" r="6.9"/>
<circle cx="461.7" cy="625.0" r="6.9"/>
<circle cx="500.0" cy="631.7" r="6.9"/>
<circle cx="495.0" cy="636.7" r="6.9"/>
<circle cx="550.0" cy="620.0" r="6.9"/>
<circle cx="538.3" cy="613.3" r="6.9"/>
<circle cx="568.3" cy="618.3" r="6.9"/>
<circle cx="564.2" cy="628.3" r="6.9"/>
<circle cx="545.0" cy="636.7" r="6.9"/>
<circle cx="560.0" cy="638.3" r="6.9"/>
<circle cx="555.0" cy="641.7" r="6.9"/>
<circle cx="525.0" cy="639.7" r="6.9"/>
<circle cx="488.3" cy="642.5" r="6.9"/>
<circle cx="498.3" cy="646.7" r="6.9"/>
<circle cx="461.7" cy="643.3" r="6.9"/>
<circle cx="592.5" cy="623.0" r="6.9"/>
<circle cx="600.0" cy="631.7" r="6.9"/>
<circle cx="609.2" cy="623.3" r="6.9"/>
<circle cx="616.7" cy="624.2" r="6.9"/>
<circle cx="611.7" cy="635.0" r="6.9"/>
<circle cx="624.2" cy="640.8" r="6.9"/>
<circle cx="672.0" cy="630.8" r="6.9"/>
<circle cx="646.7" cy="637.5" r="6.9"/>
<circle cx="660.0" cy="640.8" r="6.9"/>
<circle cx="676.7" cy="641.7" r="6.9"/>
<circle cx="744.2" cy="618.3" r="6.9"/>
<circle cx="743.3" cy="629.2" r="6.9"/>
<circle cx="738.7" cy="641.7" r="6.9"/>
<circle cx="769.2" cy="640.8" r="6.9"/>
<circle cx="765.0" cy="641.7" r="6.9"/>
<circle cx="778.3" cy="648.3" r="6.9"/>
<circle cx="479.2" cy="656.7" r="6.9"/>
<circle cx="497.5" cy="654.2" r="6.9"/>
<circle cx="460.0" cy="653.3" r="6.9"/>
<circle cx="503.3" cy="666.7" r="6.9"/>
<circle cx="485.0" cy="671.7" r="6.9"/>
<circle cx="461.7" cy="670.0" r="6.9"/>
<circle cx="465.0" cy="678.3" r="6.9"/>
<circle cx="523.3" cy="660.8" r="6.9"/>
<circle cx="530.0" cy="657.5" r="6.9"/>
<circle cx="545.0" cy="655.0" r="6.9"/>
<circle cx="543.3" cy="663.3" r="6.9"/>
<circle cx="539.2" cy="674.2" r="6.9"/>
<circle cx="550.0" cy="671.7" r="6.9"/>
<circle cx="561.7" cy="660.0" r="6.9"/>
<circle cx="570.0" cy="664.2" r="6.9"/>
<circle cx="582.5" cy="667.5" r="6.9"/>
<circle cx="573.3" cy="668.3" r="6.9"/>
<circle cx="583.3" cy="650.0" r="6.9"/>
<circle cx="595.8" cy="653.3" r="6.9"/>
<circle cx="611.7" cy="653.3" r="6.9"/>
<circle cx="626.7" cy="655.8" r="6.9"/>
<circle cx="605.0" cy="663.3" r="6.9"/>
<circle cx="596.7" cy="669.2" r="6.9"/>
<circle cx="610.8" cy="673.3" r="6.9"/>
<circle cx="624.2" cy="668.3" r="6.9"/>
<circle cx="643.3" cy="650.0" r="6.9"/>
<circle cx="655.0" cy="646.7" r="6.9"/>
<circle cx="665.0" cy="650.0" r="6.9"/>
<circle cx="671.7" cy="656.7" r="6.9"/>
<circle cx="676.7" cy="658.3" r="6.9"/>
<circle cx="685.0" cy="646.7" r="6.9"/>
<circle cx="695.0" cy="645.8" r="6.9"/>
<circle cx="696.7" cy="651.7" r="6.9"/>
<circle cx="704.2" cy="652.5" r="6.9"/>
<circle cx="643.3" cy="660.0" r="6.9"/>
<circle cx="636.7" cy="668.3" r="6.9"/>
<circle cx="646.7" cy="671.7" r="6.9"/>
<circle cx="656.7" cy="678.3" r="6.9"/>
<circle cx="670.0" cy="678.3" r="6.9"/>
<circle cx="719.2" cy="665.0" r="6.9"/>
<circle cx="726.7" cy="668.3" r="6.9"/>
<circle cx="730.0" cy="675.0" r="6.9"/>
<circle cx="711.7" cy="671.7" r="6.9"/>
<circle cx="698.3" cy="677.5" r="6.9"/>
<circle cx="746.7" cy="668.3" r="6.9"/>
<circle cx="758.3" cy="660.0" r="6.9"/>
<circle cx="760.0" cy="670.0" r="6.9"/>
<circle cx="751.7" cy="675.0" r="6.9"/>
<circle cx="495.0" cy="685.0" r="6.9"/>
<circle cx="500.8" cy="685.8" r="6.9"/>
<circle cx="515.0" cy="681.7" r="6.9"/>
<circle cx="527.5" cy="684.2" r="6.9"/>
<circle cx="514.2" cy="692.5" r="6.9"/>
<circle cx="540.0" cy="698.3" r="6.9"/>
<circle cx="528.3" cy="705.0" r="6.9"/>
<circle cx="560.0" cy="680.0" r="6.9"/>
<circle cx="563.3" cy="686.7" r="6.9"/>
<circle cx="565.0" cy="695.0" r="6.9"/>
<circle cx="574.2" cy="700.8" r="6.9"/>
<circle cx="590.0" cy="692.5" r="6.9"/>
<circle cx="599.2" cy="701.7" r="6.9"/>
<circle cx="589.2" cy="706.7" r="6.9"/>
<circle cx="612.5" cy="698.3" r="6.9"/>
<circle cx="611.7" cy="706.7" r="6.9"/>
<circle cx="623.3" cy="681.7" r="6.9"/>
<circle cx="624.2" cy="690.0" r="6.9"/>
<circle cx="633.3" cy="695.0" r="6.9"/>
<circle cx="643.3" cy="701.7" r="6.9"/>
<circle cx="650.0" cy="685.0" r="6.9"/>
<circle cx="655.0" cy="693.3" r="6.9"/>
<circle cx="668.3" cy="686.7" r="6.9"/>
<circle cx="665.0" cy="696.7" r="6.9"/>
<circle cx="675.0" cy="703.3" r="6.9"/>
<circle cx="683.3" cy="690.0" r="6.9"/>
<circle cx="693.3" cy="683.3" r="6.9"/>
<circle cx="703.3" cy="686.7" r="6.9"/>
<circle cx="715.0" cy="683.3" r="6.9"/>
<circle cx="693.3" cy="696.7" r="6.9"/>
<circle cx="701.7" cy="703.3" r="6.9"/>
<circle cx="713.3" cy="693.3" r="6.9"/>
<circle cx="723.3" cy="696.7" r="6.9"/>
<circle cx="726.7" cy="690.0" r="6.9"/>
<circle cx="740.0" cy="698.3" r="6.9"/>
<circle cx="745.8" cy="691.7" r="6.9"/>
<circle cx="743.3" cy="705.0" r="6.9"/>
<circle cx="733.3" cy="706.7" r="6.9"/>
<circle cx="720.0" cy="706.7" r="6.9"/>
<circle cx="765.0" cy="686.7" r="6.9"/>
<circle cx="773.3" cy="685.0" r="6.9"/>
<circle cx="766.7" cy="696.7" r="6.9"/>
<circle cx="765.0" cy="705.0" r="6.9"/>
<circle cx="776.7" cy="706.7" r="6.9"/>
<circle cx="463.3" cy="700.8" r="6.9"/>
<circle cx="480.8" cy="703.3" r="6.9"/>
<circle cx="495.0" cy="706.7" r="6.9"/>
<circle cx="480.8" cy="716.7" r="6.9"/>
<circle cx="486.7" cy="708.3" r="6.9"/>
<circle cx="526.7" cy="710.0" r="6.9"/>
<circle cx="505.0" cy="720.8" r="6.9"/>
<circle cx="518.3" cy="725.8" r="6.9"/>
<circle cx="540.0" cy="719.2" r="6.9"/>
<circle cx="550.0" cy="715.0" r="6.9"/>
<circle cx="490.8" cy="732.5" r="6.9"/>
<circle cx="485.8" cy="738.3" r="6.9"/>
<circle cx="471.7" cy="739.7" r="6.9"/>
<circle cx="501.7" cy="737.5" r="6.9"/>
<circle cx="508.3" cy="735.8" r="6.9"/>
<circle cx="520.8" cy="743.3" r="6.9"/>
<circle cx="530.8" cy="747.5" r="6.9"/>
<circle cx="539.2" cy="741.7" r="6.9"/>
<circle cx="546.7" cy="740.0" r="6.9"/>
<circle cx="550.8" cy="731.7" r="6.9"/>
<circle cx="471.7" cy="754.2" r="6.9"/>
<circle cx="485.8" cy="749.2" r="6.9"/>
<circle cx="481.7" cy="755.0" r="6.9"/>
<circle cx="493.3" cy="758.3" r="6.9"/>
<circle cx="471.7" cy="762.5" r="6.9"/>
<circle cx="506.7" cy="759.2" r="6.9"/>
<circle cx="520.0" cy="762.5" r="6.9"/>
<circle cx="530.0" cy="767.5" r="6.9"/>
<circle cx="541.7" cy="761.7" r="6.9"/>
<circle cx="487.2" cy="771.3" r="6.9"/>
<circle cx="501.7" cy="776.7" r="6.9"/>
<circle cx="511.7" cy="781.7" r="6.9"/>
<circle cx="522.5" cy="788.3" r="6.9"/>
<circle cx="530.0" cy="784.2" r="6.9"/>
<circle cx="545.0" cy="786.3" r="6.9"/>
<circle cx="550.8" cy="774.7" r="6.9"/>
<circle cx="460.0" cy="780.0" r="6.9"/>
<circle cx="470.0" cy="790.0" r="6.9"/>
<circle cx="476.7" cy="796.7" r="6.9"/>
<circle cx="483.3" cy="798.3" r="6.9"/>
<circle cx="487.5" cy="805.0" r="6.9"/>
<circle cx="460.0" cy="803.3" r="6.9"/>
<circle cx="521.2" cy="807.5" r="6.9"/>
<circle cx="531.3" cy="801.3" r="6.9"/>
<circle cx="563.0" cy="802.0" r="6.9"/>
<circle cx="580.0" cy="798.0" r="6.9"/>
<circle cx="564.2" cy="780.8" r="6.9"/>
<circle cx="577.5" cy="775.8" r="6.9"/>
<circle cx="569.2" cy="763.3" r="6.9"/>
<circle cx="570.0" cy="752.5" r="6.9"/>
<circle cx="568.3" cy="743.3" r="6.9"/>
<circle cx="567.5" cy="734.2" r="6.9"/>
<circle cx="583.3" cy="743.3" r="6.9"/>
<circle cx="591.7" cy="751.7" r="6.9"/>
<circle cx="596.7" cy="755.0" r="6.9"/>
<circle cx="600.0" cy="747.5" r="6.9"/>
<circle cx="599.7" cy="739.7" r="6.9"/>
<circle cx="591.3" cy="784.5" r="6.9"/>
<circle cx="605.3" cy="772.5" r="6.9"/>
<circle cx="629.3" cy="790.0" r="6.9"/>
<circle cx="642.7" cy="785.0" r="6.9"/>
<circle cx="629.7" cy="764.2" r="6.9"/>
<circle cx="614.2" cy="745.8" r="6.9"/>
<circle cx="620.0" cy="747.5" r="6.9"/>
<circle cx="631.7" cy="751.7" r="6.9"/>
<circle cx="633.3" cy="744.2" r="6.9"/>
<circle cx="642.5" cy="740.8" r="6.9"/>
<circle cx="653.3" cy="744.2" r="6.9"/>
<circle cx="652.5" cy="753.3" r="6.9"/>
<circle cx="659.7" cy="763.3" r="6.9"/>
<circle cx="671.7" cy="745.8" r="6.9"/>
<circle cx="684.2" cy="762.0" r="6.9"/>
<circle cx="691.7" cy="762.0" r="6.9"/>
<circle cx="723.7" cy="763.3" r="6.9"/>
<circle cx="720.8" cy="805.0" r="6.9"/>
<circle cx="767.5" cy="776.7" r="6.9"/>
<circle cx="780.0" cy="786.7" r="6.9"/>
<circle cx="760.8" cy="737.5" r="6.9"/>
<circle cx="773.3" cy="740.0" r="6.9"/>
<circle cx="766.3" cy="724.7" r="6.9"/>
<circle cx="729.7" cy="735.8" r="6.9"/>
<circle cx="722.0" cy="725.0" r="6.9"/>
<circle cx="700.0" cy="740.8" r="6.9"/>
<circle cx="690.8" cy="732.5" r="6.9"/>
<circle cx="696.7" cy="726.7" r="6.9"/>
<circle cx="682.5" cy="722.5" r="6.9"/>
<circle cx="670.0" cy="725.0" r="6.9"/>
<circle cx="660.0" cy="723.3" r="6.9"/>
<circle cx="665.0" cy="715.0" r="6.9"/>
<circle cx="675.0" cy="711.7" r="6.9"/>
<circle cx="653.3" cy="711.7" r="6.9"/>
<circle cx="641.7" cy="722.5" r="6.9"/>
<circle cx="646.7" cy="723.3" r="6.9"/>
<circle cx="623.3" cy="721.7" r="6.9"/>
<circle cx="620.0" cy="713.3" r="6.9"/>
<circle cx="696.7" cy="715.0" r="6.9"/>
<circle cx="706.7" cy="713.3" r="6.9"/>
<circle cx="710.0" cy="706.7" r="6.9"/>
<circle cx="728.3" cy="713.3" r="6.9"/>
<circle cx="738.3" cy="711.7" r="6.9"/>
<circle cx="478.3" cy="711.7" r="6.9"/>
<circle cx="538.3" cy="712.5" r="6.9"/>
<circle cx="620.0" cy="706.7" r="6.9"/>
<circle cx="656.7" cy="706.7" r="6.9"/>
<circle cx="695.0" cy="708.3" r="6.9"/>
<circle cx="898.5" cy="567.1" r="6.9"/>
<circle cx="870.0" cy="577.8" r="6.9"/>
<circle cx="845.6" cy="590.6" r="6.9"/>
<circle cx="853.8" cy="596.9" r="6.9"/>
<circle cx="831.9" cy="605.6" r="6.9"/>
<circle cx="851.2" cy="613.8" r="6.9"/>
<circle cx="853.1" cy="620.0" r="6.9"/>
<circle cx="854.4" cy="627.5" r="6.9"/>
<circle cx="841.5" cy="630.6" r="6.9"/>
<circle cx="800.0" cy="617.2" r="6.9"/>
<circle cx="797.5" cy="628.1" r="6.9"/>
<circle cx="804.4" cy="627.5" r="6.9"/>
<circle cx="787.5" cy="637.5" r="6.9"/>
<circle cx="802.5" cy="641.9" r="6.9"/>
<circle cx="783.8" cy="651.2" r="6.9"/>
<circle cx="795.6" cy="652.5" r="6.9"/>
<circle cx="787.5" cy="645.0" r="6.9"/>
<circle cx="810.0" cy="651.9" r="6.9"/>
<circle cx="806.9" cy="647.5" r="6.9"/>
<circle cx="831.2" cy="654.4" r="6.9"/>
<circle cx="840.0" cy="662.5" r="6.9"/>
<circle cx="872.5" cy="655.2" r="6.9"/>
<circle cx="795.6" cy="706.2" r="6.9"/>
<circle cx="845.6" cy="689.4" r="6.9"/>
<circle cx="889.8" cy="686.5" r="6.9"/>
<circle cx="862.5" cy="701.6" r="6.9"/>
<circle cx="820.0" cy="723.5" r="6.9"/>
<circle cx="829.4" cy="725.0" r="6.9"/>
<circle cx="832.8" cy="736.5" r="6.9"/>
<circle cx="845.6" cy="745.2" r="6.9"/>
<circle cx="878.8" cy="732.5" r="6.9"/>
<circle cx="799.0" cy="760.9" r="6.9"/>
<circle cx="819.4" cy="793.1" r="6.9"/>
<circle cx="609.5" cy="554.2" r="6.9"/>
<circle cx="443.1" cy="675.0" r="6.9"/>
<circle cx="456.9" cy="682.5" r="6.9"/>
<circle cx="450.0" cy="672.5" r="6.9"/>
<circle cx="483.8" cy="720.6" r="6.9"/>
<circle cx="527.5" cy="690.6" r="6.9"/>
<circle cx="662.5" cy="655.0" r="6.9"/>
<circle cx="660.0" cy="645.0" r="6.9"/>
<circle cx="640.0" cy="678.8" r="6.9"/>
<circle cx="720.0" cy="673.8" r="6.9"/>
<circle cx="712.5" cy="677.5" r="6.9"/>
<circle cx="724.0" cy="681.5" r="2.6"/>
<circle cx="796.0" cy="636.5" r="2.6"/>
<circle cx="668.5" cy="639.0" r="2.6"/>
<circle cx="362.0" cy="683.0" r="2.6"/>
<circle cx="390.5" cy="685.0" r="2.6"/>
<circle cx="705.0" cy="695.0" r="2.6"/>
<circle cx="406.0" cy="717.5" r="2.6"/>
<circle cx="386.0" cy="722.5" r="2.6"/>
<circle cx="731.5" cy="698.5" r="2.6"/>
<circle cx="300.0" cy="718.0" r="2.6"/>
<circle cx="410.5" cy="722.5" r="2.6"/>
<circle cx="510.0" cy="727.5" r="2.6"/>
<circle cx="448.5" cy="680.5" r="2.6"/>
<circle cx="365.5" cy="684.0" r="2.6"/>
<circle cx="520.0" cy="687.5" r="2.6"/>
<circle cx="408.0" cy="720.0" r="2.6"/>
<circle cx="666.5" cy="636.5" r="2.6"/>
<circle cx="361.5" cy="641.5" r="2.6"/>
<circle cx="668.0" cy="642.0" r="2.6"/>
<circle cx="359.5" cy="644.0" r="2.6"/>
<circle cx="727.0" cy="682.0" r="2.6"/>
<circle cx="354.0" cy="694.0" r="2.6"/>
<circle cx="702.0" cy="694.5" r="2.6"/>
<circle cx="403.0" cy="717.5" r="2.6"/>
<circle cx="371.5" cy="718.5" r="2.6"/>
<circle cx="675.5" cy="719.5" r="2.6"/>
<circle cx="385.0" cy="725.5" r="2.6"/>
<circle cx="352.0" cy="785.5" r="2.6"/>
<circle cx="406.0" cy="653.0" r="2.6"/>
<circle cx="753.5" cy="665.5" r="2.6"/>
<circle cx="408.0" cy="674.0" r="2.6"/>
<circle cx="446.0" cy="682.0" r="2.6"/>
<circle cx="722.5" cy="684.0" r="2.6"/>
<circle cx="696.5" cy="690.0" r="2.6"/>
<circle cx="731.5" cy="695.5" r="2.6"/>
<circle cx="706.5" cy="697.5" r="2.6"/>
<circle cx="716.5" cy="700.0" r="2.6"/>
<circle cx="653.0" cy="719.5" r="2.6"/>
<circle cx="384.0" cy="720.5" r="2.6"/>
<circle cx="413.5" cy="722.5" r="2.6"/>
<circle cx="510.5" cy="609.0" r="2.6"/>
<circle cx="512.5" cy="611.0" r="2.6"/>
<circle cx="793.5" cy="634.0" r="2.6"/>
<circle cx="798.5" cy="635.0" r="2.6"/>
<circle cx="653.5" cy="638.5" r="2.6"/>
<circle cx="794.5" cy="638.5" r="2.6"/>
<circle cx="617.5" cy="639.0" r="2.6"/>
<circle cx="407.0" cy="640.0" r="2.6"/>
<circle cx="375.5" cy="644.5" r="2.6"/>
<circle cx="647.5" cy="644.5" r="2.6"/>
<circle cx="395.0" cy="648.5" r="2.6"/>
<circle cx="322.5" cy="650.5" r="2.6"/>
<circle cx="359.0" cy="651.0" r="2.6"/>
<circle cx="324.0" cy="653.0" r="2.6"/>
<circle cx="383.5" cy="656.0" r="2.6"/>
<circle cx="420.5" cy="656.5" r="2.6"/>
<circle cx="303.5" cy="657.0" r="2.6"/>
<circle cx="379.5" cy="657.0" r="2.6"/>
<circle cx="599.0" cy="659.5" r="2.6"/>
<circle cx="501.5" cy="660.0" r="2.6"/>
<circle cx="358.0" cy="661.5" r="2.6"/>
<circle cx="421.5" cy="670.0" r="2.6"/>
<circle cx="350.5" cy="671.5" r="2.6"/>
<circle cx="362.0" cy="673.0" r="2.6"/>
<circle cx="556.5" cy="674.0" r="2.6"/>
<circle cx="456.5" cy="675.0" r="2.6"/>
<circle cx="361.5" cy="675.5" r="2.6"/>
<circle cx="649.5" cy="678.0" r="2.6"/>
<circle cx="338.0" cy="678.5" r="2.6"/>
<circle cx="362.0" cy="679.5" r="2.6"/>
<circle cx="721.5" cy="680.5" r="2.6"/>
<circle cx="663.5" cy="681.0" r="2.6"/>
<circle cx="391.0" cy="682.0" r="2.6"/>
<circle cx="359.0" cy="684.0" r="2.6"/>
<circle cx="387.0" cy="685.0" r="2.6"/>
<circle cx="392.5" cy="686.5" r="2.6"/>
<circle cx="719.0" cy="689.0" r="2.6"/>
<circle cx="690.5" cy="690.0" r="2.6"/>
<circle cx="698.5" cy="692.0" r="2.6"/>
<circle cx="289.0" cy="699.0" r="2.6"/>
<circle cx="658.5" cy="699.5" r="2.6"/>
<circle cx="729.5" cy="700.0" r="2.6"/>
<circle cx="713.5" cy="700.5" r="2.6"/>
<circle cx="772.0" cy="701.5" r="2.6"/>
<circle cx="606.5" cy="702.0" r="2.6"/>
<circle cx="728.0" cy="702.0" r="2.6"/>
<circle cx="370.5" cy="703.0" r="2.6"/>
<circle cx="457.0" cy="704.0" r="2.6"/>
<circle cx="726.5" cy="704.0" r="2.6"/>
<circle cx="649.5" cy="705.0" r="2.6"/>
<circle cx="648.0" cy="707.0" r="2.6"/>
<circle cx="408.5" cy="711.0" r="2.6"/>
<circle cx="407.0" cy="714.5" r="2.6"/>
<circle cx="300.5" cy="715.0" r="2.6"/>
<circle cx="648.0" cy="716.5" r="2.6"/>
<circle cx="297.0" cy="718.0" r="2.6"/>
<circle cx="671.5" cy="718.0" r="2.6"/>
<circle cx="301.5" cy="720.5" r="2.6"/>
<circle cx="371.0" cy="721.0" r="2.6"/>
<circle cx="388.5" cy="722.0" r="2.6"/>
<circle cx="511.0" cy="724.5" r="2.6"/>
<circle cx="349.5" cy="725.0" r="2.6"/>
<circle cx="409.5" cy="725.0" r="2.6"/>
<circle cx="488.5" cy="726.0" r="2.6"/>
<circle cx="688.5" cy="726.0" r="2.6"/>
<circle cx="507.0" cy="727.5" r="2.6"/>
<circle cx="352.0" cy="728.5" r="2.6"/>
<circle cx="512.0" cy="729.0" r="2.6"/>
<circle cx="513.5" cy="731.0" r="2.6"/>
<circle cx="763.5" cy="731.0" r="2.6"/>
<circle cx="350.0" cy="781.0" r="2.6"/>
<circle cx="465.5" cy="784.5" r="2.6"/>
<circle cx="636.0" cy="787.0" r="2.6"/>
<circle cx="350.5" cy="788.0" r="2.6"/>
<circle cx="386.0" cy="802.0" r="2.6"/>
</g>
<path d="M156.7,713.0 L166.1,712.3 L175.5,711.6 L184.9,710.9 L194.3,710.3 L203.7,709.7 L213.1,709.1 L222.5,708.5 L231.8,708.0 L241.2,707.4 L250.6,706.9 L260.0,706.4 L269.4,705.9 L278.8,705.5 L288.2,705.1 L297.6,704.7 L307.0,704.4 L316.4,704.1 L325.8,703.9 L335.2,703.7 L344.6,703.5 L354.0,703.2 L363.3,703.0 L372.7,702.7 L382.1,702.5 L391.5,702.2 L400.9,701.9 L410.3,701.6 L419.7,701.2 L429.1,700.9 L438.5,700.5 L447.9,700.1 L457.3,699.7 L466.7,699.3 L476.1,698.8 L485.5,698.3 L494.8,697.8 L504.2,697.2 L513.6,696.6 L523.0,696.1 L532.4,695.4 L541.8,694.7 L551.2,694.0 L560.6,693.3 L570.0,692.6 L579.4,691.9 L588.8,691.4 L598.2,690.8 L607.6,690.3 L617.0,689.8 L626.4,689.3 L635.7,688.8 L645.1,688.3 L654.5,687.9 L663.9,687.4 L673.3,686.9 L682.7,686.4 L692.1,685.9 L701.5,685.3 L710.9,684.6 L720.3,684.0 L729.7,683.3 L739.1,682.6 L748.5,681.8 L757.9,681.1 L767.2,680.3 L776.6,679.6 L786.0,678.8 L795.4,678.1 L804.8,677.3 L814.2,676.5 L823.6,675.7 L833.0,674.9 L842.4,674.1 L851.8,673.2 L861.2,672.4 L870.6,671.5 L880.0,670.6 L889.4,669.7 L898.8,668.8" fill="none" stroke="#df536b" stroke-width="2.0" stroke-linejoin="round" stroke-linecap="round"/>
</g>
<rect x="127.60" y="543.80" width="800.60" height="288.50" fill="none" stroke="#000" stroke-width="2.0"/>
<line x1="208.80" y1="832.30" x2="208.80" y2="848.60" stroke="#000" stroke-width="2.0" stroke-linecap="butt"/>
<text transform="translate(208.80 889.50) scale(1 1.04)" font-size="26.56" text-anchor="middle" fill="#000">2000</text>
<line x1="335.28" y1="832.30" x2="335.28" y2="848.60" stroke="#000" stroke-width="2.0" stroke-linecap="butt"/>
<text transform="translate(335.28 889.50) scale(1 1.04)" font-size="26.56" text-anchor="middle" fill="#000">3000</text>
<line x1="461.76" y1="832.30" x2="461.76" y2="848.60" stroke="#000" stroke-width="2.0" stroke-linecap="butt"/>
<text transform="translate(461.76 889.50) scale(1 1.04)" font-size="26.56" text-anchor="middle" fill="#000">4000</text>
<line x1="588.24" y1="832.30" x2="588.24" y2="848.60" stroke="#000" stroke-width="2.0" stroke-linecap="butt"/>
<text transform="translate(588.24 889.50) scale(1 1.04)" font-size="26.56" text-anchor="middle" fill="#000">5000</text>
<line x1="714.72" y1="832.30" x2="714.72" y2="848.60" stroke="#000" stroke-width="2.0" stroke-linecap="butt"/>
<text transform="translate(714.72 889.50) scale(1 1.04)" font-size="26.56" text-anchor="middle" fill="#000">6000</text>
<line x1="841.20" y1="832.30" x2="841.20" y2="848.60" stroke="#000" stroke-width="2.0" stroke-linecap="butt"/>
<text transform="translate(841.20 889.50) scale(1 1.04)" font-size="26.56" text-anchor="middle" fill="#000">7000</text>
<line x1="111.30" y1="821.80" x2="127.60" y2="821.80" stroke="#000" stroke-width="2.0" stroke-linecap="butt"/>
<text transform="translate(89.00 821.80) rotate(-90) scale(1 1.04)" font-size="26.56" text-anchor="middle" fill="#000">0.0</text>
<line x1="111.30" y1="746.80" x2="127.60" y2="746.80" stroke="#000" stroke-width="2.0" stroke-linecap="butt"/>
<text transform="translate(89.00 746.80) rotate(-90) scale(1 1.04)" font-size="26.56" text-anchor="middle" fill="#000">0.5</text>
<line x1="111.30" y1="671.90" x2="127.60" y2="671.90" stroke="#000" stroke-width="2.0" stroke-linecap="butt"/>
<text transform="translate(89.00 671.90) rotate(-90) scale(1 1.04)" font-size="26.56" text-anchor="middle" fill="#000">1.0</text>
<line x1="111.30" y1="597.00" x2="127.60" y2="597.00" stroke="#000" stroke-width="2.0" stroke-linecap="butt"/>
<text transform="translate(89.00 597.00) rotate(-90) scale(1 1.04)" font-size="26.56" text-anchor="middle" fill="#000">1.5</text>
<text transform="translate(527.90 528.90) scale(1 1.01)" font-size="31.87" text-anchor="middle" fill="#000" textLength="210.5" lengthAdjust="spacingAndGlyphs">Scale-Location</text>
<text transform="translate(527.90 952.80) scale(1 1.04)" font-size="26.56" text-anchor="middle" fill="#000" textLength="152.5" lengthAdjust="spacingAndGlyphs">Fitted values</text>
<text transform="translate(25.30 682.50) rotate(-90) scale(1 1.04)" font-size="26.56" text-anchor="middle" fill="#000" textLength="271.5" lengthAdjust="spacingAndGlyphs">Standardized residuals</text>
<line x1="4.00" y1="819.60" x2="26.30" y2="819.60" stroke="#000" stroke-width="2.2" stroke-linecap="butt"/>
<line x1="4.00" y1="544.00" x2="26.30" y2="544.00" stroke="#000" stroke-width="2.2" stroke-linecap="butt"/>
<path d="M14.2,832.2 L16.8,835.4 L26.0,827.7 L-2,822.7" fill="none" stroke="#000" stroke-width="2.2" stroke-linejoin="miter"/>
<text transform="translate(600.80 559.40) scale(1 1.04)" font-size="19.5" text-anchor="end" fill="#000">54</text>
<text transform="translate(862.00 582.40) scale(1 1.04)" font-size="19.5" text-anchor="end" fill="#000">184</text>
<text transform="translate(890.50 571.90) scale(1 1.04)" font-size="19.5" text-anchor="end" fill="#000">185</text>
<clipPath id="c4"><rect x="1088.6" y="544.8" width="798.6" height="286.5"/></clipPath>
<g clip-path="url(#c4)">
<g fill="#27276d">
<circle cx="1171.5" cy="572.5" r="6.9"/>
<circle cx="1150.0" cy="589.8" r="6.9"/>
<circle cx="1160.0" cy="591.2" r="6.9"/>
<circle cx="1170.6" cy="588.1" r="6.9"/>
<circle cx="1188.1" cy="583.8" r="6.9"/>
<circle cx="1200.0" cy="577.5" r="6.9"/>
<circle cx="1209.4" cy="581.2" r="6.9"/>
<circle cx="1240.6" cy="583.5" r="6.9"/>
<circle cx="1210.0" cy="597.5" r="6.9"/>
<circle cx="1223.8" cy="609.4" r="6.9"/>
<circle cx="1241.2" cy="610.6" r="6.9"/>
<circle cx="1247.5" cy="616.2" r="6.9"/>
<circle cx="1261.2" cy="620.6" r="6.9"/>
<circle cx="1270.6" cy="611.5" r="6.9"/>
<circle cx="1273.8" cy="625.6" r="6.9"/>
<circle cx="1280.6" cy="628.1" r="6.9"/>
<circle cx="1290.0" cy="637.5" r="6.9"/>
<circle cx="1305.0" cy="618.8" r="6.9"/>
<circle cx="1305.6" cy="623.1" r="6.9"/>
<circle cx="1320.0" cy="612.5" r="6.9"/>
<circle cx="1331.9" cy="609.4" r="6.9"/>
<circle cx="1333.1" cy="620.0" r="6.9"/>
<circle cx="1321.9" cy="633.1" r="6.9"/>
<circle cx="1311.2" cy="638.8" r="6.9"/>
<circle cx="1303.8" cy="641.2" r="6.9"/>
<circle cx="1350.6" cy="644.0" r="6.9"/>
<circle cx="1357.5" cy="650.0" r="6.9"/>
<circle cx="1331.2" cy="657.5" r="6.9"/>
<circle cx="1340.0" cy="665.0" r="6.9"/>
<circle cx="1325.0" cy="669.4" r="6.9"/>
<circle cx="1345.0" cy="672.5" r="6.9"/>
<circle cx="1307.5" cy="670.0" r="6.9"/>
<circle cx="1298.8" cy="671.2" r="6.9"/>
<circle cx="1291.2" cy="672.5" r="6.9"/>
<circle cx="1292.5" cy="651.2" r="6.9"/>
<circle cx="1291.2" cy="657.5" r="6.9"/>
<circle cx="1304.4" cy="650.0" r="6.9"/>
<circle cx="1305.0" cy="653.8" r="6.9"/>
<circle cx="1270.0" cy="638.1" r="6.9"/>
<circle cx="1271.2" cy="646.9" r="6.9"/>
<circle cx="1275.6" cy="661.2" r="6.9"/>
<circle cx="1272.5" cy="667.5" r="6.9"/>
<circle cx="1155.6" cy="612.5" r="6.9"/>
<circle cx="1158.8" cy="618.8" r="6.9"/>
<circle cx="1161.9" cy="602.5" r="6.9"/>
<circle cx="1166.2" cy="633.8" r="6.9"/>
<circle cx="1160.0" cy="645.0" r="6.9"/>
<circle cx="1157.5" cy="656.2" r="6.9"/>
<circle cx="1153.1" cy="668.8" r="6.9"/>
<circle cx="1170.0" cy="645.0" r="6.9"/>
<circle cx="1180.0" cy="653.8" r="6.9"/>
<circle cx="1170.0" cy="597.5" r="6.9"/>
<circle cx="1180.0" cy="595.0" r="6.9"/>
<circle cx="1195.0" cy="592.5" r="6.9"/>
<circle cx="1201.2" cy="587.5" r="6.9"/>
<circle cx="1201.2" cy="597.5" r="6.9"/>
<circle cx="1183.8" cy="588.8" r="6.9"/>
<circle cx="1192.5" cy="585.0" r="6.9"/>
<circle cx="1162.5" cy="605.0" r="6.9"/>
<circle cx="1172.5" cy="603.8" r="6.9"/>
<circle cx="1195.0" cy="603.8" r="6.9"/>
<circle cx="1205.0" cy="605.0" r="6.9"/>
<circle cx="1207.5" cy="610.0" r="6.9"/>
<circle cx="1182.5" cy="602.5" r="6.9"/>
<circle cx="1165.0" cy="615.0" r="6.9"/>
<circle cx="1175.0" cy="616.2" r="6.9"/>
<circle cx="1185.0" cy="615.0" r="6.9"/>
<circle cx="1195.0" cy="613.8" r="6.9"/>
<circle cx="1205.0" cy="616.2" r="6.9"/>
<circle cx="1213.8" cy="620.0" r="6.9"/>
<circle cx="1226.2" cy="617.5" r="6.9"/>
<circle cx="1236.2" cy="617.5" r="6.9"/>
<circle cx="1245.0" cy="622.5" r="6.9"/>
<circle cx="1255.0" cy="625.0" r="6.9"/>
<circle cx="1217.5" cy="613.8" r="6.9"/>
<circle cx="1170.0" cy="625.0" r="6.9"/>
<circle cx="1180.0" cy="625.0" r="6.9"/>
<circle cx="1190.0" cy="623.8" r="6.9"/>
<circle cx="1200.0" cy="625.0" r="6.9"/>
<circle cx="1210.0" cy="627.5" r="6.9"/>
<circle cx="1220.0" cy="626.2" r="6.9"/>
<circle cx="1230.0" cy="626.2" r="6.9"/>
<circle cx="1240.0" cy="628.8" r="6.9"/>
<circle cx="1250.0" cy="631.2" r="6.9"/>
<circle cx="1260.0" cy="632.5" r="6.9"/>
<circle cx="1266.2" cy="635.0" r="6.9"/>
<circle cx="1175.0" cy="635.0" r="6.9"/>
<circle cx="1182.5" cy="636.2" r="6.9"/>
<circle cx="1192.5" cy="633.8" r="6.9"/>
<circle cx="1202.5" cy="635.0" r="6.9"/>
<circle cx="1212.5" cy="636.2" r="6.9"/>
<circle cx="1222.5" cy="636.2" r="6.9"/>
<circle cx="1232.5" cy="636.2" r="6.9"/>
<circle cx="1242.5" cy="638.8" r="6.9"/>
<circle cx="1252.5" cy="640.0" r="6.9"/>
<circle cx="1262.5" cy="642.5" r="6.9"/>
<circle cx="1192.5" cy="645.0" r="6.9"/>
<circle cx="1200.0" cy="643.8" r="6.9"/>
<circle cx="1210.0" cy="645.0" r="6.9"/>
<circle cx="1220.0" cy="645.0" r="6.9"/>
<circle cx="1230.0" cy="646.2" r="6.9"/>
<circle cx="1240.0" cy="647.5" r="6.9"/>
<circle cx="1247.5" cy="650.0" r="6.9"/>
<circle cx="1261.2" cy="651.2" r="6.9"/>
<circle cx="1162.5" cy="652.5" r="6.9"/>
<circle cx="1172.5" cy="655.0" r="6.9"/>
<circle cx="1182.5" cy="658.8" r="6.9"/>
<circle cx="1192.5" cy="653.8" r="6.9"/>
<circle cx="1202.5" cy="653.8" r="6.9"/>
<circle cx="1212.5" cy="655.0" r="6.9"/>
<circle cx="1222.5" cy="655.0" r="6.9"/>
<circle cx="1232.5" cy="656.2" r="6.9"/>
<circle cx="1242.5" cy="657.5" r="6.9"/>
<circle cx="1252.5" cy="658.8" r="6.9"/>
<circle cx="1262.5" cy="660.0" r="6.9"/>
<circle cx="1267.5" cy="663.8" r="6.9"/>
<circle cx="1157.5" cy="663.8" r="6.9"/>
<circle cx="1167.5" cy="665.0" r="6.9"/>
<circle cx="1177.5" cy="665.0" r="6.9"/>
<circle cx="1187.5" cy="663.8" r="6.9"/>
<circle cx="1197.5" cy="663.8" r="6.9"/>
<circle cx="1207.5" cy="665.0" r="6.9"/>
<circle cx="1217.5" cy="665.0" r="6.9"/>
<circle cx="1227.5" cy="666.2" r="6.9"/>
<circle cx="1237.5" cy="666.2" r="6.9"/>
<circle cx="1247.5" cy="667.5" r="6.9"/>
<circle cx="1257.5" cy="668.8" r="6.9"/>
<circle cx="1265.0" cy="671.2" r="6.9"/>
<circle cx="1150.0" cy="672.5" r="6.9"/>
<circle cx="1160.0" cy="673.8" r="6.9"/>
<circle cx="1170.0" cy="673.8" r="6.9"/>
<circle cx="1180.0" cy="673.8" r="6.9"/>
<circle cx="1190.0" cy="673.8" r="6.9"/>
<circle cx="1200.0" cy="673.8" r="6.9"/>
<circle cx="1210.0" cy="673.8" r="6.9"/>
<circle cx="1220.0" cy="673.8" r="6.9"/>
<circle cx="1230.0" cy="673.8" r="6.9"/>
<circle cx="1240.0" cy="673.8" r="6.9"/>
<circle cx="1250.0" cy="673.8" r="6.9"/>
<circle cx="1260.0" cy="673.8" r="6.9"/>
<circle cx="1152.5" cy="671.2" r="6.9"/>
<circle cx="1153.8" cy="680.0" r="6.9"/>
<circle cx="1155.6" cy="692.5" r="6.9"/>
<circle cx="1157.5" cy="706.2" r="6.9"/>
<circle cx="1155.6" cy="713.8" r="6.9"/>
<circle cx="1170.0" cy="717.5" r="6.9"/>
<circle cx="1178.8" cy="725.0" r="6.9"/>
<circle cx="1180.0" cy="744.1" r="6.9"/>
<circle cx="1200.0" cy="734.8" r="6.9"/>
<circle cx="1206.2" cy="721.2" r="6.9"/>
<circle cx="1215.0" cy="737.5" r="6.9"/>
<circle cx="1213.5" cy="749.0" r="6.9"/>
<circle cx="1227.5" cy="732.5" r="6.9"/>
<circle cx="1232.5" cy="735.0" r="6.9"/>
<circle cx="1240.0" cy="736.2" r="6.9"/>
<circle cx="1250.0" cy="742.5" r="6.9"/>
<circle cx="1258.1" cy="741.2" r="6.9"/>
<circle cx="1251.2" cy="750.0" r="6.9"/>
<circle cx="1267.8" cy="758.8" r="6.9"/>
<circle cx="1281.2" cy="726.9" r="6.9"/>
<circle cx="1293.1" cy="735.0" r="6.9"/>
<circle cx="1286.9" cy="742.5" r="6.9"/>
<circle cx="1295.0" cy="752.5" r="6.9"/>
<circle cx="1303.8" cy="752.5" r="6.9"/>
<circle cx="1312.5" cy="748.1" r="6.9"/>
<circle cx="1321.2" cy="751.9" r="6.9"/>
<circle cx="1292.5" cy="765.6" r="6.9"/>
<circle cx="1283.8" cy="771.0" r="6.9"/>
<circle cx="1297.5" cy="781.9" r="6.9"/>
<circle cx="1338.1" cy="740.0" r="6.9"/>
<circle cx="1357.5" cy="741.9" r="6.9"/>
<circle cx="1270.0" cy="720.0" r="6.9"/>
<circle cx="1293.8" cy="711.2" r="6.9"/>
<circle cx="1293.8" cy="726.2" r="6.9"/>
<circle cx="1301.2" cy="725.0" r="6.9"/>
<circle cx="1312.5" cy="725.0" r="6.9"/>
<circle cx="1325.0" cy="726.2" r="6.9"/>
<circle cx="1342.5" cy="725.0" r="6.9"/>
<circle cx="1352.5" cy="722.5" r="6.9"/>
<circle cx="1313.8" cy="712.5" r="6.9"/>
<circle cx="1325.0" cy="715.0" r="6.9"/>
<circle cx="1348.8" cy="706.2" r="6.9"/>
<circle cx="1357.5" cy="717.5" r="6.9"/>
<circle cx="1293.8" cy="671.2" r="6.9"/>
<circle cx="1303.8" cy="670.0" r="6.9"/>
<circle cx="1312.5" cy="672.5" r="6.9"/>
<circle cx="1340.0" cy="670.0" r="6.9"/>
<circle cx="1351.2" cy="675.0" r="6.9"/>
<circle cx="1357.5" cy="680.0" r="6.9"/>
<circle cx="1293.8" cy="681.2" r="6.9"/>
<circle cx="1303.8" cy="682.5" r="6.9"/>
<circle cx="1311.2" cy="686.2" r="6.9"/>
<circle cx="1330.0" cy="681.2" r="6.9"/>
<circle cx="1330.0" cy="690.0" r="6.9"/>
<circle cx="1351.2" cy="686.2" r="6.9"/>
<circle cx="1331.2" cy="700.0" r="6.9"/>
<circle cx="1342.5" cy="697.5" r="6.9"/>
<circle cx="1357.5" cy="697.5" r="6.9"/>
<circle cx="1332.5" cy="708.8" r="6.9"/>
<circle cx="1345.0" cy="706.2" r="6.9"/>
<circle cx="1162.5" cy="671.2" r="6.9"/>
<circle cx="1172.5" cy="671.2" r="6.9"/>
<circle cx="1182.5" cy="671.2" r="6.9"/>
<circle cx="1192.5" cy="671.2" r="6.9"/>
<circle cx="1202.5" cy="671.2" r="6.9"/>
<circle cx="1212.5" cy="671.2" r="6.9"/>
<circle cx="1222.5" cy="671.2" r="6.9"/>
<circle cx="1232.5" cy="671.2" r="6.9"/>
<circle cx="1242.5" cy="671.2" r="6.9"/>
<circle cx="1252.5" cy="671.2" r="6.9"/>
<circle cx="1272.5" cy="671.2" r="6.9"/>
<circle cx="1163.8" cy="681.2" r="6.9"/>
<circle cx="1173.8" cy="681.2" r="6.9"/>
<circle cx="1183.8" cy="681.2" r="6.9"/>
<circle cx="1203.8" cy="681.2" r="6.9"/>
<circle cx="1213.8" cy="681.2" r="6.9"/>
<circle cx="1223.8" cy="681.2" r="6.9"/>
<circle cx="1233.8" cy="681.2" r="6.9"/>
<circle cx="1243.8" cy="681.2" r="6.9"/>
<circle cx="1253.8" cy="681.2" r="6.9"/>
<circle cx="1263.8" cy="681.2" r="6.9"/>
<circle cx="1273.8" cy="681.2" r="6.9"/>
<circle cx="1283.8" cy="681.2" r="6.9"/>
<circle cx="1165.6" cy="691.2" r="6.9"/>
<circle cx="1175.6" cy="691.2" r="6.9"/>
<circle cx="1185.6" cy="691.2" r="6.9"/>
<circle cx="1195.6" cy="691.2" r="6.9"/>
<circle cx="1205.6" cy="691.2" r="6.9"/>
<circle cx="1215.6" cy="691.2" r="6.9"/>
<circle cx="1225.6" cy="691.2" r="6.9"/>
<circle cx="1235.6" cy="691.2" r="6.9"/>
<circle cx="1245.6" cy="691.2" r="6.9"/>
<circle cx="1255.6" cy="691.2" r="6.9"/>
<circle cx="1265.6" cy="691.2" r="6.9"/>
<circle cx="1275.6" cy="691.2" r="6.9"/>
<circle cx="1285.6" cy="691.2" r="6.9"/>
<circle cx="1305.0" cy="693.8" r="6.9"/>
<circle cx="1312.5" cy="697.5" r="6.9"/>
<circle cx="1167.5" cy="701.2" r="6.9"/>
<circle cx="1177.5" cy="701.2" r="6.9"/>
<circle cx="1187.5" cy="701.2" r="6.9"/>
<circle cx="1197.5" cy="701.2" r="6.9"/>
<circle cx="1207.5" cy="701.2" r="6.9"/>
<circle cx="1217.5" cy="701.2" r="6.9"/>
<circle cx="1227.5" cy="701.2" r="6.9"/>
<circle cx="1237.5" cy="701.2" r="6.9"/>
<circle cx="1247.5" cy="701.2" r="6.9"/>
<circle cx="1257.5" cy="701.2" r="6.9"/>
<circle cx="1267.5" cy="701.2" r="6.9"/>
<circle cx="1277.5" cy="701.2" r="6.9"/>
<circle cx="1287.5" cy="701.2" r="6.9"/>
<circle cx="1297.5" cy="701.2" r="6.9"/>
<circle cx="1307.5" cy="701.2" r="6.9"/>
<circle cx="1166.2" cy="711.2" r="6.9"/>
<circle cx="1176.2" cy="711.2" r="6.9"/>
<circle cx="1186.2" cy="711.2" r="6.9"/>
<circle cx="1196.2" cy="711.2" r="6.9"/>
<circle cx="1206.2" cy="711.2" r="6.9"/>
<circle cx="1216.2" cy="711.2" r="6.9"/>
<circle cx="1226.2" cy="711.2" r="6.9"/>
<circle cx="1236.2" cy="711.2" r="6.9"/>
<circle cx="1246.2" cy="711.2" r="6.9"/>
<circle cx="1268.8" cy="711.2" r="6.9"/>
<circle cx="1278.8" cy="708.8" r="6.9"/>
<circle cx="1287.5" cy="712.5" r="6.9"/>
<circle cx="1210.0" cy="720.6" r="6.9"/>
<circle cx="1220.0" cy="720.6" r="6.9"/>
<circle cx="1230.0" cy="720.6" r="6.9"/>
<circle cx="1240.0" cy="720.6" r="6.9"/>
<circle cx="1250.0" cy="720.6" r="6.9"/>
<circle cx="1260.0" cy="720.6" r="6.9"/>
<circle cx="1217.5" cy="728.8" r="6.9"/>
<circle cx="1245.0" cy="730.0" r="6.9"/>
<circle cx="1252.5" cy="732.5" r="6.9"/>
<circle cx="1190.0" cy="717.5" r="6.9"/>
<circle cx="1196.2" cy="716.2" r="6.9"/>
<circle cx="1295.0" cy="689.4" r="6.9"/>
<circle cx="1235.0" cy="727.5" r="6.9"/>
<circle cx="1379.7" cy="615.8" r="6.9"/>
<circle cx="1395.5" cy="618.8" r="6.9"/>
<circle cx="1374.2" cy="629.2" r="6.9"/>
<circle cx="1360.3" cy="651.2" r="6.9"/>
<circle cx="1407.8" cy="647.5" r="6.9"/>
<circle cx="1440.0" cy="644.5" r="6.9"/>
<circle cx="1455.8" cy="648.0" r="6.9"/>
<circle cx="1454.2" cy="659.2" r="6.9"/>
<circle cx="1478.8" cy="653.0" r="6.9"/>
<circle cx="1525.5" cy="632.5" r="6.9"/>
<circle cx="1400.0" cy="668.7" r="6.9"/>
<circle cx="1411.7" cy="667.5" r="6.9"/>
<circle cx="1485.5" cy="677.5" r="6.9"/>
<circle cx="1502.0" cy="677.0" r="6.9"/>
<circle cx="1308.3" cy="685.0" r="6.9"/>
<circle cx="1310.0" cy="676.7" r="6.9"/>
<circle cx="1372.5" cy="686.7" r="6.9"/>
<circle cx="1373.3" cy="692.5" r="6.9"/>
<circle cx="1392.5" cy="692.5" r="6.9"/>
<circle cx="1359.2" cy="694.2" r="6.9"/>
<circle cx="1335.0" cy="695.0" r="6.9"/>
<circle cx="1306.7" cy="708.3" r="6.9"/>
<circle cx="1345.0" cy="703.3" r="6.9"/>
<circle cx="1340.0" cy="713.3" r="6.9"/>
<circle cx="1360.8" cy="715.8" r="6.9"/>
<circle cx="1330.0" cy="723.3" r="6.9"/>
<circle cx="1315.0" cy="723.3" r="6.9"/>
<circle cx="1305.0" cy="726.7" r="6.9"/>
<circle cx="1379.2" cy="707.5" r="6.9"/>
<circle cx="1388.3" cy="703.3" r="6.9"/>
<circle cx="1390.0" cy="712.5" r="6.9"/>
<circle cx="1375.0" cy="720.0" r="6.9"/>
<circle cx="1382.5" cy="721.7" r="6.9"/>
<circle cx="1386.7" cy="696.7" r="6.9"/>
<circle cx="1406.7" cy="712.5" r="6.9"/>
<circle cx="1414.2" cy="705.8" r="6.9"/>
<circle cx="1423.3" cy="705.8" r="6.9"/>
<circle cx="1414.2" cy="720.8" r="6.9"/>
<circle cx="1422.5" cy="721.7" r="6.9"/>
<circle cx="1433.3" cy="729.2" r="6.9"/>
<circle cx="1470.5" cy="697.5" r="6.9"/>
<circle cx="1530.8" cy="701.7" r="6.9"/>
<circle cx="1494.2" cy="753.0" r="6.9"/>
<circle cx="1390.0" cy="693.3" r="6.9"/>
<circle cx="1345.0" cy="700.0" r="6.9"/>
<circle cx="1346.7" cy="708.3" r="6.9"/>
<circle cx="1350.0" cy="721.7" r="6.9"/>
<circle cx="1300.0" cy="701.7" r="6.9"/>
<circle cx="1290.0" cy="700.0" r="6.9"/>
<circle cx="1301.7" cy="708.3" r="6.9"/>
<circle cx="1298.3" cy="725.8" r="6.9"/>
<circle cx="1292.5" cy="737.5" r="6.9"/>
<circle cx="1339.2" cy="791.2" r="6.9"/>
<circle cx="1858.7" cy="735.0" r="6.9"/>
<circle cx="1773.7" cy="803.3" r="6.9"/>
<circle cx="1269.5" cy="655.5" r="2.6"/>
<circle cx="1378.5" cy="699.0" r="2.6"/>
<circle cx="1188.0" cy="596.5" r="2.6"/>
<circle cx="1188.5" cy="608.0" r="2.6"/>
<circle cx="1179.0" cy="609.5" r="2.6"/>
<circle cx="1181.5" cy="717.5" r="2.6"/>
<circle cx="1265.5" cy="627.0" r="2.6"/>
<circle cx="1349.0" cy="693.5" r="2.6"/>
<circle cx="1160.0" cy="699.0" r="2.6"/>
<circle cx="1255.0" cy="647.0" r="2.6"/>
<circle cx="1333.0" cy="716.5" r="2.6"/>
<circle cx="1190.0" cy="598.0" r="2.6"/>
<circle cx="1176.5" cy="609.5" r="2.6"/>
<circle cx="1170.5" cy="610.5" r="2.6"/>
<circle cx="1185.5" cy="629.5" r="2.6"/>
<circle cx="1254.5" cy="649.5" r="2.6"/>
<circle cx="1268.0" cy="653.0" r="2.6"/>
<circle cx="1271.5" cy="654.0" r="2.6"/>
<circle cx="1298.0" cy="655.5" r="2.6"/>
<circle cx="1197.5" cy="684.5" r="2.6"/>
<circle cx="1158.0" cy="685.5" r="2.6"/>
<circle cx="1347.0" cy="692.0" r="2.6"/>
<circle cx="1351.5" cy="693.5" r="2.6"/>
<circle cx="1380.0" cy="694.5" r="2.6"/>
<circle cx="1161.5" cy="697.0" r="2.6"/>
<circle cx="1376.0" cy="699.0" r="2.6"/>
<circle cx="1380.5" cy="700.5" r="2.6"/>
<circle cx="1337.5" cy="703.0" r="2.6"/>
<circle cx="1353.0" cy="712.0" r="2.6"/>
<circle cx="1383.0" cy="713.5" r="2.6"/>
<circle cx="1351.0" cy="714.0" r="2.6"/>
<circle cx="1379.5" cy="714.5" r="2.6"/>
<circle cx="1178.0" cy="718.0" r="2.6"/>
<circle cx="1335.0" cy="718.5" r="2.6"/>
<circle cx="1183.0" cy="719.5" r="2.6"/>
<circle cx="1337.0" cy="720.0" r="2.6"/>
<circle cx="1225.0" cy="725.5" r="2.6"/>
<circle cx="1255.0" cy="725.5" r="2.6"/>
<circle cx="1257.0" cy="727.0" r="2.6"/>
</g>
<line x1="1087.60" y1="674.70" x2="1888.20" y2="674.70" stroke="#bebebe" stroke-width="2.0" stroke-linecap="round" stroke-dasharray="2 6"/>
<line x1="1117.00" y1="832.30" x2="1117.00" y2="543.80" stroke="#bebebe" stroke-width="2.0" stroke-linecap="round" stroke-dasharray="2 6"/>
<path d="M1149.4,648.8 L1152.4,649.6 L1155.5,650.5 L1158.5,651.3 L1161.5,652.2 L1164.6,653.0 L1167.6,653.9 L1170.7,654.7 L1173.7,655.5 L1176.7,656.4 L1179.8,657.2 L1182.8,658.0 L1185.8,658.8 L1188.9,659.5 L1191.9,660.3 L1194.9,661.2 L1198.0,662.1 L1201.0,663.0 L1204.1,664.1 L1207.1,665.2 L1210.1,666.4 L1213.2,667.7 L1216.2,669.0 L1219.2,670.4 L1222.3,671.7 L1225.3,673.0 L1228.3,674.2 L1231.4,675.5 L1234.4,676.7 L1237.5,677.9 L1240.5,679.1 L1243.5,680.2 L1246.6,681.0 L1249.6,681.9 L1252.6,682.6 L1255.7,683.4 L1258.7,684.0 L1261.7,684.7 L1264.8,685.3 L1267.8,685.9 L1270.9,686.4 L1273.9,686.9 L1276.9,687.4 L1280.0,687.9 L1283.0,688.4 L1286.0,688.8 L1289.1,689.2 L1292.1,689.6 L1295.1,690.0 L1298.2,690.4 L1301.2,690.8 L1304.3,691.1 L1307.3,691.5 L1310.3,691.8 L1313.4,692.1 L1316.4,692.4 L1319.4,692.7 L1322.5,693.0 L1325.5,693.2 L1328.5,693.4 L1331.6,693.7 L1334.6,693.9 L1337.7,694.1 L1340.7,694.2 L1343.7,694.4 L1346.8,694.5 L1349.8,694.6 L1352.8,694.6 L1355.9,694.7 L1358.9,694.7 L1361.9,694.7 L1365.0,694.7 L1368.0,694.6 L1371.1,694.5 L1374.1,694.3 L1377.1,694.2 L1380.2,694.0 L1383.2,693.8 L1386.2,693.6 L1389.3,693.4 L1392.3,693.2 L1395.3,693.0 L1398.4,692.8 L1401.4,692.7 L1404.5,692.5 L1407.5,692.4 L1410.5,692.2 L1413.6,692.1 L1416.6,692.0 L1419.6,691.8 L1422.7,691.7 L1425.7,691.5 L1428.7,691.4 L1431.8,691.2 L1434.8,691.1 L1437.9,691.0 L1440.9,690.8 L1443.9,690.7 L1447.0,690.5 L1450.0,690.4 L1501.9,688.5 L1526.2,690.0 L1530.8,690.7 L1858.7,741.2" fill="none" stroke="#df536b" stroke-width="2.0" stroke-linejoin="round" stroke-linecap="round"/>
</g>
<line x1="1111.80" y1="814.50" x2="1151.00" y2="814.50" stroke="#9e9e9e" stroke-width="2.0" stroke-linecap="round" stroke-dasharray="7.8 7.8"/>
<text transform="translate(1165.00 823.80) scale(1 1.04)" font-size="26.56" text-anchor="start" fill="#9e9e9e" textLength="186.0" lengthAdjust="spacingAndGlyphs">Cook's distance</text>
<rect x="1087.60" y="543.80" width="800.60" height="288.50" fill="none" stroke="#000" stroke-width="2.0"/>
<line x1="1117.00" y1="832.30" x2="1117.00" y2="848.60" stroke="#000" stroke-width="2.0" stroke-linecap="butt"/>
<text transform="translate(1117.00 889.50) scale(1 1.04)" font-size="26.56" text-anchor="middle" fill="#000">0.00</text>
<line x1="1306.60" y1="832.30" x2="1306.60" y2="848.60" stroke="#000" stroke-width="2.0" stroke-linecap="butt"/>
<text transform="translate(1306.60 889.50) scale(1 1.04)" font-size="26.56" text-anchor="middle" fill="#000">0.01</text>
<line x1="1496.20" y1="832.30" x2="1496.20" y2="848.60" stroke="#000" stroke-width="2.0" stroke-linecap="butt"/>
<text transform="translate(1496.20 889.50) scale(1 1.04)" font-size="26.56" text-anchor="middle" fill="#000">0.02</text>
<line x1="1685.80" y1="832.30" x2="1685.80" y2="848.60" stroke="#000" stroke-width="2.0" stroke-linecap="butt"/>
<text transform="translate(1685.80 889.50) scale(1 1.04)" font-size="26.56" text-anchor="middle" fill="#000">0.03</text>
<line x1="1875.40" y1="832.30" x2="1875.40" y2="848.60" stroke="#000" stroke-width="2.0" stroke-linecap="butt"/>
<text transform="translate(1875.40 889.50) scale(1 1.04)" font-size="26.56" text-anchor="middle" fill="#000">0.04</text>
<line x1="1071.30" y1="553.30" x2="1087.60" y2="553.30" stroke="#000" stroke-width="2.0" stroke-linecap="butt"/>
<text transform="translate(1049.00 553.30) rotate(-90) scale(1 1.04)" font-size="26.56" text-anchor="middle" fill="#000">3</text>
<line x1="1071.30" y1="593.72" x2="1087.60" y2="593.72" stroke="#000" stroke-width="2.0" stroke-linecap="butt"/>
<text transform="translate(1049.00 593.72) rotate(-90) scale(1 1.04)" font-size="26.56" text-anchor="middle" fill="#000">2</text>
<line x1="1071.30" y1="634.14" x2="1087.60" y2="634.14" stroke="#000" stroke-width="2.0" stroke-linecap="butt"/>
<text transform="translate(1049.00 634.14) rotate(-90) scale(1 1.04)" font-size="26.56" text-anchor="middle" fill="#000">1</text>
<line x1="1071.30" y1="674.56" x2="1087.60" y2="674.56" stroke="#000" stroke-width="2.0" stroke-linecap="butt"/>
<line x1="1071.30" y1="714.98" x2="1087.60" y2="714.98" stroke="#000" stroke-width="2.0" stroke-linecap="butt"/>
<text transform="translate(1049.00 714.98) rotate(-90) scale(1 1.04)" font-size="26.56" text-anchor="middle" fill="#000">-1</text>
<line x1="1071.30" y1="755.40" x2="1087.60" y2="755.40" stroke="#000" stroke-width="2.0" stroke-linecap="butt"/>
<line x1="1071.30" y1="795.82" x2="1087.60" y2="795.82" stroke="#000" stroke-width="2.0" stroke-linecap="butt"/>
<text transform="translate(1049.00 795.82) rotate(-90) scale(1 1.04)" font-size="26.56" text-anchor="middle" fill="#000">-3</text>
<text transform="translate(1487.90 528.90) scale(1 1.01)" font-size="31.87" text-anchor="middle" fill="#000">Residuals vs Leverage</text>
<text transform="translate(1487.90 952.80) scale(1 1.04)" font-size="26.56" text-anchor="middle" fill="#000">Leverage</text>
<text transform="translate(985.30 688.00) rotate(-90) scale(1 1.04)" font-size="26.56" text-anchor="middle" fill="#000" textLength="271.5" lengthAdjust="spacingAndGlyphs">Standardized residuals</text>
<text transform="translate(1348.30 802.90) scale(1 1.04)" font-size="19.5" text-anchor="start" fill="#000">185</text>
<text transform="translate(1765.00 815.40) scale(1 1.04)" font-size="19.5" text-anchor="end" fill="#000">54</text>
<text transform="translate(1850.00 747.40) scale(1 1.04)" font-size="19.5" text-anchor="end" fill="#000">39</text>
</svg>
</body></html>
